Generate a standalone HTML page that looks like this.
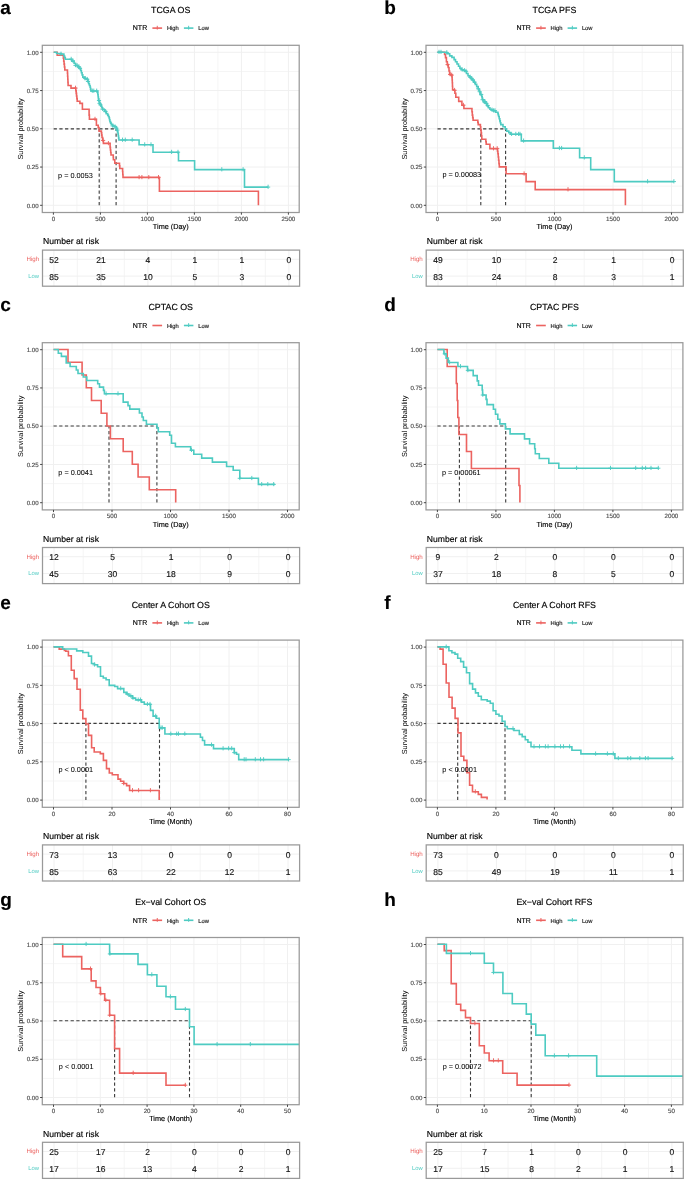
<!DOCTYPE html>
<html><head><meta charset="utf-8"><title>KM curves</title>
<style>html,body{margin:0;padding:0;background:#fff;}svg{display:block;font-family:"Liberation Sans", sans-serif;will-change:transform;text-rendering:geometricPrecision;filter:blur(0.3px);}</style></head>
<body><svg width="685" height="1180" viewBox="0 0 685 1180">
<rect width="685" height="1180" fill="#fff"/>
<text x="0.2" y="14" font-size="19" text-anchor="start" fill="#000" stroke="#000" stroke-width="0.15" font-weight="bold">a</text>
<text x="170.75" y="13" font-size="8.85" text-anchor="middle" fill="#000" stroke="#000" stroke-width="0.15">TCGA OS</text>
<text x="132.8" y="30.4" font-size="7.0" text-anchor="start" fill="#000" stroke="#000" stroke-width="0.15">NTR</text>
<line x1="152.4" y1="28.1" x2="162.1" y2="28.1" stroke="#EC6360" stroke-width="1.6"/>
<line x1="157.25" y1="25.8" x2="157.25" y2="29.6" stroke="#EC6360" stroke-width="1"/>
<text x="166.9" y="30.4" font-size="5.8" text-anchor="start" fill="#1a1a1a" stroke="#1a1a1a" stroke-width="0.15">High</text>
<line x1="183.9" y1="28.1" x2="193.4" y2="28.1" stroke="#4ECBC2" stroke-width="1.6"/>
<line x1="188.65" y1="25.8" x2="188.65" y2="29.6" stroke="#4ECBC2" stroke-width="1"/>
<text x="198.2" y="30.4" font-size="5.8" text-anchor="start" fill="#1a1a1a" stroke="#1a1a1a" stroke-width="0.15">Low</text>
<line x1="76.9" y1="45.3" x2="76.9" y2="212.5" stroke="#f4f4f4" stroke-width="0.9"/><line x1="123.9" y1="45.3" x2="123.9" y2="212.5" stroke="#f4f4f4" stroke-width="0.9"/><line x1="170.9" y1="45.3" x2="170.9" y2="212.5" stroke="#f4f4f4" stroke-width="0.9"/><line x1="217.9" y1="45.3" x2="217.9" y2="212.5" stroke="#f4f4f4" stroke-width="0.9"/><line x1="264.9" y1="45.3" x2="264.9" y2="212.5" stroke="#f4f4f4" stroke-width="0.9"/><line x1="42.3" y1="186.18" x2="299.2" y2="186.18" stroke="#f4f4f4" stroke-width="0.9"/><line x1="42.3" y1="147.93" x2="299.2" y2="147.93" stroke="#f4f4f4" stroke-width="0.9"/><line x1="42.3" y1="109.68" x2="299.2" y2="109.68" stroke="#f4f4f4" stroke-width="0.9"/><line x1="42.3" y1="71.43" x2="299.2" y2="71.43" stroke="#f4f4f4" stroke-width="0.9"/><line x1="53.4" y1="45.3" x2="53.4" y2="212.5" stroke="#f0f0f0" stroke-width="1"/><line x1="100.4" y1="45.3" x2="100.4" y2="212.5" stroke="#f0f0f0" stroke-width="1"/><line x1="147.4" y1="45.3" x2="147.4" y2="212.5" stroke="#f0f0f0" stroke-width="1"/><line x1="194.4" y1="45.3" x2="194.4" y2="212.5" stroke="#f0f0f0" stroke-width="1"/><line x1="241.4" y1="45.3" x2="241.4" y2="212.5" stroke="#f0f0f0" stroke-width="1"/><line x1="288.4" y1="45.3" x2="288.4" y2="212.5" stroke="#f0f0f0" stroke-width="1"/><line x1="42.3" y1="205.3" x2="299.2" y2="205.3" stroke="#f0f0f0" stroke-width="1"/><line x1="42.3" y1="167.05" x2="299.2" y2="167.05" stroke="#f0f0f0" stroke-width="1"/><line x1="42.3" y1="128.8" x2="299.2" y2="128.8" stroke="#f0f0f0" stroke-width="1"/><line x1="42.3" y1="90.55" x2="299.2" y2="90.55" stroke="#f0f0f0" stroke-width="1"/><line x1="42.3" y1="52.3" x2="299.2" y2="52.3" stroke="#f0f0f0" stroke-width="1"/>
<path d="M53.65,128.9H116.1M99.2,205.2V128.9M116.1,205.2V128.9" fill="none" stroke="#3a3a3a" stroke-width="1.1" stroke-dasharray="3.25,2.45"/>
<path d="M53.65,52.3 57.2,52.3 57.2,55.3 63,55.3 63.36,55.3 63.36,58.24 63.72,58.24 63.72,61.18 64.08,61.18 64.08,64.12 64.44,64.12 64.44,67.06 64.8,67.06 64.8,70 67.3,70 67.46,70 67.46,73.1 67.62,73.1 67.62,76.2 67.78,76.2 67.78,79.3 67.94,79.3 67.94,82.4 68.1,82.4 68.1,85.5 71,85.5 71,88.1 75.5,88.1 75.84,88.1 75.84,90.72 76.18,90.72 76.18,93.34 76.52,93.34 76.52,95.96 76.86,95.96 76.86,98.58 77.2,98.58 77.2,101.2 79.9,101.2 79.9,103.4 82.4,103.4 82.4,109.2 89.1,109.2 89.1,115.1 89.4,115.1 89.4,119.2 96.4,119.2 96.4,125.3 98.2,125.3 98.2,127.6 99.05,127.6 99.05,131.1 101.4,131.1 101.4,132.8 101.7,132.8 101.7,135.15 102,135.15 102,137.5 102.7,137.5 102.7,140.45 103.4,140.45 103.4,143.4 109.6,143.4 110.1,143.4 110.1,147.4 110.4,147.4 110.4,149.93 110.7,149.93 110.7,152.47 111,152.47 111,155 113.1,155 113.25,155 113.25,157.35 113.4,157.35 113.4,159.7 114.8,159.7 114.8,163.2 119.2,163.2 119.5,163.2 119.5,165.85 119.8,165.85 119.8,168.5 122.4,168.5 122.6,168.5 122.6,171.47 122.8,171.47 122.8,174.43 123,174.43 123,177.4 159.4,177.4 159.4,191.3 258.4,191.3 258.4,205.2" fill="none" stroke="#EC6360" stroke-width="1.6" stroke-linejoin="miter"/>
<path d="M73.4,88.1h4.2M75.5,85.7v4.2M92.9,119.2h4.2M95,116.8v4.2M101,140.45h4.2M103.1,138.05v4.2M106.3,143.4h4.2M108.4,141v4.2M137,177.4h4.2M139.1,175v4.2M139.8,177.4h4.2M141.9,175v4.2M146.7,177.4h4.2M148.8,175v4.2M156.4,177.4h4.2M158.5,175v4.2" fill="none" stroke="#EC6360" stroke-width="0.95"/>
<path d="M53.65,52.3 56.6,52.3 56.6,53.5 61,53.5 61,54.05 63.9,54.05 63.9,56 64.6,56 64.6,57.6 65.3,57.6 65.3,59.2 70.4,59.2 71.9,59.2 71.9,61.1 74.1,61.1 74.1,63.2 75.5,63.2 75.5,65.4 77.7,65.4 77.7,66.9 79.2,66.9 79.2,68.4 80.7,68.4 80.7,70.5 81.4,70.5 81.4,72.7 82.1,72.7 82.1,74.9 82.8,74.9 82.8,77.1 85,77.1 85,78.6 87.2,78.6 87.2,79.3 87.95,79.3 87.95,81.5 88.7,81.5 88.7,83.7 89.4,83.7 89.4,85.5 90.1,85.5 90.1,87.3 90.5,87.3 90.5,89.15 90.9,89.15 90.9,91 97.4,91 97.64,91 97.64,92.9 97.88,92.9 97.88,94.8 98.12,94.8 98.12,96.7 98.36,96.7 98.36,98.6 98.6,98.6 98.6,100.5 99.1,100.5 99.1,101.95 99.6,101.95 99.6,103.4 100.35,103.4 100.35,104.85 101.1,104.85 101.1,106.3 101.85,106.3 101.85,107.75 102.6,107.75 102.6,109.2 104.3,109.2 104.3,111.4 106.2,111.4 106.2,113.6 107.7,113.6 107.7,115.1 108.4,115.1 108.4,116.55 109.1,116.55 109.1,118 109.5,118 109.5,119.8 109.9,119.8 109.9,121.6 110.6,121.6 110.6,123.1 111.3,123.1 111.3,124.6 112.8,124.6 112.8,126 115,126 115,126.8 116.4,126.8 116.4,128.2 116.93,128.2 116.93,130.13 117.47,130.13 117.47,132.07 118,132.07 118,134 118.3,134 118.3,136 118.6,136 118.6,138 118.9,138 118.9,140 139.1,140 139.1,144.7 153,144.7 153,152.2 178.5,152.2 178.5,160.8 194.6,160.8 194.6,169.6 244.5,169.6 244.5,187.1 268.1,187.1" fill="none" stroke="#4ECBC2" stroke-width="1.6" stroke-linejoin="miter"/>
<path d="M58.9,54.05h4.2M61,51.65v4.2M69.1,59.2h4.2M71.2,56.8v4.2M70.9,61.1h4.2M73,58.7v4.2M73.4,65.4h4.2M75.5,63v4.2M74.9,65.4h4.2M77,63v4.2M76.9,66.9h4.2M79,64.5v4.2M77.9,68.4h4.2M80,66v4.2M82.9,78.6h4.2M85,76.2v4.2M85.1,79.3h4.2M87.2,76.9v4.2M85.9,81.5h4.2M88,79.1v4.2M90.2,91h4.2M92.3,88.6v4.2M91.7,91h4.2M93.8,88.6v4.2M94.6,91h4.2M96.7,88.6v4.2M96.9,100.5h4.2M99,98.1v4.2M97.5,103.4h4.2M99.6,101v4.2M98.3,104.85h4.2M100.4,102.45v4.2M100.5,109.2h4.2M102.6,106.8v4.2M103.5,111.4h4.2M105.6,109v4.2M110.7,126h4.2M112.8,123.6v4.2M112.9,126.8h4.2M115,124.4v4.2M114.3,128.2h4.2M116.4,125.8v4.2M115.2,130.13h4.2M117.3,127.73v4.2M120.4,140h4.2M122.5,137.6v4.2M123.2,140h4.2M125.3,137.6v4.2M130.1,140h4.2M132.2,137.6v4.2M142.6,144.7h4.2M144.7,142.3v4.2M148.9,144.7h4.2M151,142.3v4.2M169.5,152.2h4.2M171.6,149.8v4.2M175.9,152.2h4.2M178,149.8v4.2M219.7,169.6h4.2M221.8,167.2v4.2M241,169.6h4.2M243.1,167.2v4.2M266,187.1h4.2M268.1,184.7v4.2" fill="none" stroke="#4ECBC2" stroke-width="0.95"/>
<rect x="42.3" y="45.3" width="256.9" height="167.2" fill="none" stroke="#999" stroke-width="1.25"/>
<line x1="40.1" y1="205.3" x2="42.3" y2="205.3" stroke="#333" stroke-width="0.9"/>
<text x="38.6" y="207.5" font-size="6.1" text-anchor="end" fill="#4d4d4d" stroke="#4d4d4d" stroke-width="0.15">0.00</text>
<line x1="40.1" y1="167.05" x2="42.3" y2="167.05" stroke="#333" stroke-width="0.9"/>
<text x="38.6" y="169.25" font-size="6.1" text-anchor="end" fill="#4d4d4d" stroke="#4d4d4d" stroke-width="0.15">0.25</text>
<line x1="40.1" y1="128.8" x2="42.3" y2="128.8" stroke="#333" stroke-width="0.9"/>
<text x="38.6" y="131" font-size="6.1" text-anchor="end" fill="#4d4d4d" stroke="#4d4d4d" stroke-width="0.15">0.50</text>
<line x1="40.1" y1="90.55" x2="42.3" y2="90.55" stroke="#333" stroke-width="0.9"/>
<text x="38.6" y="92.75" font-size="6.1" text-anchor="end" fill="#4d4d4d" stroke="#4d4d4d" stroke-width="0.15">0.75</text>
<line x1="40.1" y1="52.3" x2="42.3" y2="52.3" stroke="#333" stroke-width="0.9"/>
<text x="38.6" y="54.5" font-size="6.1" text-anchor="end" fill="#4d4d4d" stroke="#4d4d4d" stroke-width="0.15">1.00</text>
<line x1="53.4" y1="212.5" x2="53.4" y2="214.7" stroke="#333" stroke-width="0.9"/>
<text x="53.4" y="220.9" font-size="6.2" text-anchor="middle" fill="#4d4d4d" stroke="#4d4d4d" stroke-width="0.15">0</text>
<line x1="100.4" y1="212.5" x2="100.4" y2="214.7" stroke="#333" stroke-width="0.9"/>
<text x="100.4" y="220.9" font-size="6.2" text-anchor="middle" fill="#4d4d4d" stroke="#4d4d4d" stroke-width="0.15">500</text>
<line x1="147.4" y1="212.5" x2="147.4" y2="214.7" stroke="#333" stroke-width="0.9"/>
<text x="147.4" y="220.9" font-size="6.2" text-anchor="middle" fill="#4d4d4d" stroke="#4d4d4d" stroke-width="0.15">1000</text>
<line x1="194.4" y1="212.5" x2="194.4" y2="214.7" stroke="#333" stroke-width="0.9"/>
<text x="194.4" y="220.9" font-size="6.2" text-anchor="middle" fill="#4d4d4d" stroke="#4d4d4d" stroke-width="0.15">1500</text>
<line x1="241.4" y1="212.5" x2="241.4" y2="214.7" stroke="#333" stroke-width="0.9"/>
<text x="241.4" y="220.9" font-size="6.2" text-anchor="middle" fill="#4d4d4d" stroke="#4d4d4d" stroke-width="0.15">2000</text>
<line x1="288.4" y1="212.5" x2="288.4" y2="214.7" stroke="#333" stroke-width="0.9"/>
<text x="288.4" y="220.9" font-size="6.2" text-anchor="middle" fill="#4d4d4d" stroke="#4d4d4d" stroke-width="0.15">2500</text>
<text x="170.75" y="229.2" font-size="7.3" text-anchor="middle" fill="#000" stroke="#000" stroke-width="0.15">Time (Day)</text>
<text transform="translate(23.4,128.9) rotate(-90)" font-size="7.3" text-anchor="middle" fill="#000">Survival probability</text>
<text x="58.1" y="177.6" font-size="7.3" text-anchor="start" fill="#000" stroke="#000" stroke-width="0.04">p = 0.0053</text>
<text x="43.1" y="244.3" font-size="8.6" text-anchor="start" fill="#000" stroke="#000" stroke-width="0.15">Number at risk</text>
<line x1="77.4" y1="250.1" x2="77.4" y2="286.2" stroke="#f4f4f4" stroke-width="0.9"/><line x1="124.4" y1="250.1" x2="124.4" y2="286.2" stroke="#f4f4f4" stroke-width="0.9"/><line x1="171.4" y1="250.1" x2="171.4" y2="286.2" stroke="#f4f4f4" stroke-width="0.9"/><line x1="218.4" y1="250.1" x2="218.4" y2="286.2" stroke="#f4f4f4" stroke-width="0.9"/><line x1="265.4" y1="250.1" x2="265.4" y2="286.2" stroke="#f4f4f4" stroke-width="0.9"/><line x1="53.9" y1="250.1" x2="53.9" y2="286.2" stroke="#f0f0f0" stroke-width="1"/><line x1="100.9" y1="250.1" x2="100.9" y2="286.2" stroke="#f0f0f0" stroke-width="1"/><line x1="147.9" y1="250.1" x2="147.9" y2="286.2" stroke="#f0f0f0" stroke-width="1"/><line x1="194.9" y1="250.1" x2="194.9" y2="286.2" stroke="#f0f0f0" stroke-width="1"/><line x1="241.9" y1="250.1" x2="241.9" y2="286.2" stroke="#f0f0f0" stroke-width="1"/><line x1="288.9" y1="250.1" x2="288.9" y2="286.2" stroke="#f0f0f0" stroke-width="1"/><line x1="42.5" y1="259.3" x2="299.6" y2="259.3" stroke="#f0f0f0" stroke-width="1"/><line x1="42.5" y1="276.1" x2="299.6" y2="276.1" stroke="#f0f0f0" stroke-width="1"/>
<rect x="42.5" y="250.1" width="257.1" height="36.1" fill="none" stroke="#999" stroke-width="1.25"/>
<text x="53.9" y="263" font-size="8.5" text-anchor="middle" fill="#111" stroke="#111" stroke-width="0.15">52</text>
<text x="53.9" y="279.9" font-size="8.5" text-anchor="middle" fill="#111" stroke="#111" stroke-width="0.15">85</text>
<text x="100.9" y="263" font-size="8.5" text-anchor="middle" fill="#111" stroke="#111" stroke-width="0.15">21</text>
<text x="100.9" y="279.9" font-size="8.5" text-anchor="middle" fill="#111" stroke="#111" stroke-width="0.15">35</text>
<text x="147.9" y="263" font-size="8.5" text-anchor="middle" fill="#111" stroke="#111" stroke-width="0.15">4</text>
<text x="147.9" y="279.9" font-size="8.5" text-anchor="middle" fill="#111" stroke="#111" stroke-width="0.15">10</text>
<text x="194.9" y="263" font-size="8.5" text-anchor="middle" fill="#111" stroke="#111" stroke-width="0.15">1</text>
<text x="194.9" y="279.9" font-size="8.5" text-anchor="middle" fill="#111" stroke="#111" stroke-width="0.15">5</text>
<text x="241.9" y="263" font-size="8.5" text-anchor="middle" fill="#111" stroke="#111" stroke-width="0.15">1</text>
<text x="241.9" y="279.9" font-size="8.5" text-anchor="middle" fill="#111" stroke="#111" stroke-width="0.15">3</text>
<text x="288.9" y="263" font-size="8.5" text-anchor="middle" fill="#111" stroke="#111" stroke-width="0.15">0</text>
<text x="288.9" y="279.9" font-size="8.5" text-anchor="middle" fill="#111" stroke="#111" stroke-width="0.15">0</text>
<text x="39.1" y="261.1" font-size="6.15" text-anchor="end" fill="#EC6360">High</text>
<text x="39.1" y="277.8" font-size="5.85" text-anchor="end" fill="#4ECBC2">Low</text>
<text x="384.2" y="14" font-size="19" text-anchor="start" fill="#000" stroke="#000" stroke-width="0.15" font-weight="bold">b</text>
<text x="554.45" y="13" font-size="8.85" text-anchor="middle" fill="#000" stroke="#000" stroke-width="0.15">TCGA PFS</text>
<text x="516.5" y="30.4" font-size="7.0" text-anchor="start" fill="#000" stroke="#000" stroke-width="0.15">NTR</text>
<line x1="536.1" y1="28.1" x2="545.8" y2="28.1" stroke="#EC6360" stroke-width="1.6"/>
<line x1="540.95" y1="25.8" x2="540.95" y2="29.6" stroke="#EC6360" stroke-width="1"/>
<text x="550.6" y="30.4" font-size="5.8" text-anchor="start" fill="#1a1a1a" stroke="#1a1a1a" stroke-width="0.15">High</text>
<line x1="567.6" y1="28.1" x2="577.1" y2="28.1" stroke="#4ECBC2" stroke-width="1.6"/>
<line x1="572.35" y1="25.8" x2="572.35" y2="29.6" stroke="#4ECBC2" stroke-width="1"/>
<text x="581.9" y="30.4" font-size="5.8" text-anchor="start" fill="#1a1a1a" stroke="#1a1a1a" stroke-width="0.15">Low</text>
<line x1="466.75" y1="45.3" x2="466.75" y2="212.5" stroke="#f4f4f4" stroke-width="0.9"/><line x1="525.25" y1="45.3" x2="525.25" y2="212.5" stroke="#f4f4f4" stroke-width="0.9"/><line x1="583.75" y1="45.3" x2="583.75" y2="212.5" stroke="#f4f4f4" stroke-width="0.9"/><line x1="642.25" y1="45.3" x2="642.25" y2="212.5" stroke="#f4f4f4" stroke-width="0.9"/><line x1="426" y1="186.18" x2="682.9" y2="186.18" stroke="#f4f4f4" stroke-width="0.9"/><line x1="426" y1="147.93" x2="682.9" y2="147.93" stroke="#f4f4f4" stroke-width="0.9"/><line x1="426" y1="109.68" x2="682.9" y2="109.68" stroke="#f4f4f4" stroke-width="0.9"/><line x1="426" y1="71.43" x2="682.9" y2="71.43" stroke="#f4f4f4" stroke-width="0.9"/><line x1="437.5" y1="45.3" x2="437.5" y2="212.5" stroke="#f0f0f0" stroke-width="1"/><line x1="496" y1="45.3" x2="496" y2="212.5" stroke="#f0f0f0" stroke-width="1"/><line x1="554.5" y1="45.3" x2="554.5" y2="212.5" stroke="#f0f0f0" stroke-width="1"/><line x1="613" y1="45.3" x2="613" y2="212.5" stroke="#f0f0f0" stroke-width="1"/><line x1="671.5" y1="45.3" x2="671.5" y2="212.5" stroke="#f0f0f0" stroke-width="1"/><line x1="426" y1="205.3" x2="682.9" y2="205.3" stroke="#f0f0f0" stroke-width="1"/><line x1="426" y1="167.05" x2="682.9" y2="167.05" stroke="#f0f0f0" stroke-width="1"/><line x1="426" y1="128.8" x2="682.9" y2="128.8" stroke="#f0f0f0" stroke-width="1"/><line x1="426" y1="90.55" x2="682.9" y2="90.55" stroke="#f0f0f0" stroke-width="1"/><line x1="426" y1="52.3" x2="682.9" y2="52.3" stroke="#f0f0f0" stroke-width="1"/>
<path d="M437.5,128.9H505.6M480.8,205.2V128.9M505.6,205.2V128.9" fill="none" stroke="#3a3a3a" stroke-width="1.1" stroke-dasharray="3.25,2.45"/>
<path d="M437.5,52.2 444.6,52.2 444.6,54.5 445,54.5 445.5,54.5 445.5,57.6 446.4,57.6 446.4,61.7 447.3,61.7 447.3,64.6 448.2,64.6 448.2,67.5 449,67.5 449,71 449.6,71 449.6,74.5 451.4,74.5 451.4,75.1 452,75.1 452,77.4 452.15,77.4 452.15,80.05 452.3,80.05 452.3,82.7 452.45,82.7 452.45,86.2 452.6,86.2 452.6,89.7 454,89.7 454,90.3 454.9,90.3 454.9,93.2 455.8,93.2 455.8,97.3 458.7,97.3 458.7,101.4 461.9,101.4 461.9,105.2 463.9,105.2 463.9,108.5 471.6,108.5 471.95,108.5 471.95,111.8 472.3,111.8 472.3,115.1 472.7,115.1 472.7,117.65 473.1,117.65 473.1,120.2 477.4,120.2 477.8,120.2 477.8,122.4 478.2,122.4 478.2,124.6 480.4,124.6 480.4,126.8 480.75,126.8 480.75,129.7 481.1,129.7 481.1,132.6 481.45,132.6 481.45,135.9 481.8,135.9 481.8,139.2 485.5,139.2 485.85,139.2 485.85,141.75 486.2,141.75 486.2,144.3 489.1,144.3 489.9,144.3 489.9,148.6 497.2,148.6 497.55,148.6 497.55,151.2 497.9,151.2 497.9,153.8 498.25,153.8 498.25,157.05 498.6,157.05 498.6,160.3 498.95,160.3 498.95,163.6 499.3,163.6 499.3,166.9 506.1,166.9 506.1,173.8 526.1,173.8 526.1,181.6 535.2,181.6 535.2,189.6 625.4,189.6 625.4,205.2" fill="none" stroke="#EC6360" stroke-width="1.6" stroke-linejoin="miter"/>
<path d="M445.5,64.6h4.2M447.6,62.2v4.2M448.1,74.5h4.2M450.2,72.1v4.2M449.6,75.1h4.2M451.7,72.7v4.2M452.5,90.3h4.2M454.6,87.9v4.2M461.3,105.2h4.2M463.4,102.8v4.2M491.4,148.6h4.2M493.5,146.2v4.2M495.1,148.6h4.2M497.2,146.2v4.2M522,173.8h4.2M524.1,171.4v4.2M565.9,189.6h4.2M568,187.2v4.2" fill="none" stroke="#EC6360" stroke-width="0.95"/>
<path d="M437.5,52.2 446.1,52.2 446.1,52.6 447.5,52.6 447.5,53.8 449.7,53.8 449.7,55.9 451.9,55.9 451.9,57.4 454.1,57.4 454.1,59.6 455.5,59.6 455.5,61.8 457,61.8 457,64 458.5,64 458.5,66.2 459.9,66.2 459.9,68.4 461.4,68.4 461.4,69.8 463.6,69.8 463.6,70.5 465,70.5 465,71.3 466.5,71.3 466.5,73.5 468,73.5 468,75.7 469.4,75.7 469.4,77.1 470.9,77.1 470.9,78.6 472.3,78.6 472.3,80 473.8,80 473.8,82.2 475.3,82.2 475.3,84.4 476.7,84.4 476.7,86.6 478.2,86.6 478.2,88.8 478.9,88.8 478.9,90.25 479.6,90.25 479.6,91.7 480,91.7 480,93.15 480.4,93.15 480.4,94.6 481.8,94.6 481.8,96.8 482.2,96.8 482.2,98.25 482.6,98.25 482.6,99.7 484,99.7 484,101.9 485.5,101.9 485.5,103.4 486.9,103.4 486.9,105.6 488.4,105.6 488.4,107.8 489.9,107.8 489.9,109.2 491.3,109.2 491.3,110 493.5,110 493.5,110.7 495.7,110.7 495.7,112.2 497.9,112.2 497.9,113.6 498.25,113.6 498.25,115.05 498.6,115.05 498.6,116.5 499.2,116.5 499.2,118.7 499.8,118.7 499.8,120.9 500.3,120.9 500.3,122.75 500.8,122.75 500.8,124.6 503,124.6 503,126.8 505.2,126.8 505.2,128.9 506.6,128.9 506.6,131.1 508.8,131.1 508.8,132.6 510.3,132.6 510.3,134.2 521.3,134.2 521.3,140.9 553.3,140.9 553.3,148.3 579.6,148.3 579.6,157.7 590.7,157.7 590.7,169.6 614.3,169.6 614.3,181.6 673.9,181.6" fill="none" stroke="#4ECBC2" stroke-width="1.6" stroke-linejoin="miter"/>
<path d="M436.9,52.2h4.2M439,49.8v4.2M438.9,52.2h4.2M441,49.8v4.2M444.7,52.6h4.2M446.8,50.2v4.2M460.1,69.8h4.2M462.2,67.4v4.2M462.3,70.5h4.2M464.4,68.1v4.2M463.9,71.3h4.2M466,68.9v4.2M468.1,77.1h4.2M470.2,74.7v4.2M469.6,78.6h4.2M471.7,76.2v4.2M470.7,80h4.2M472.8,77.6v4.2M472.5,82.2h4.2M474.6,79.8v4.2M476.1,88.8h4.2M478.2,86.4v4.2M477.6,91.7h4.2M479.7,89.3v4.2M479.1,94.6h4.2M481.2,92.2v4.2M480.5,99.7h4.2M482.6,97.3v4.2M482,101.9h4.2M484.1,99.5v4.2M483.1,101.9h4.2M485.2,99.5v4.2M484.2,103.4h4.2M486.3,101v4.2M485.6,105.6h4.2M487.7,103.2v4.2M490,110h4.2M492.1,107.6v4.2M491.5,110.7h4.2M493.6,108.3v4.2M492.9,110.7h4.2M495,108.3v4.2M509.5,134.2h4.2M511.6,131.8v4.2M513.7,134.2h4.2M515.8,131.8v4.2M516.5,134.2h4.2M518.6,131.8v4.2M517.9,134.2h4.2M520,131.8v4.2M521.5,140.9h4.2M523.6,138.5v4.2M557.3,148.3h4.2M559.4,145.9v4.2M559.5,148.3h4.2M561.6,145.9v4.2M582.2,157.7h4.2M584.3,155.3v4.2M645.5,181.6h4.2M647.6,179.2v4.2M671.8,181.6h4.2M673.9,179.2v4.2" fill="none" stroke="#4ECBC2" stroke-width="0.95"/>
<rect x="426" y="45.3" width="256.9" height="167.2" fill="none" stroke="#999" stroke-width="1.25"/>
<line x1="423.8" y1="205.3" x2="426" y2="205.3" stroke="#333" stroke-width="0.9"/>
<text x="422.3" y="207.5" font-size="6.1" text-anchor="end" fill="#4d4d4d" stroke="#4d4d4d" stroke-width="0.15">0.00</text>
<line x1="423.8" y1="167.05" x2="426" y2="167.05" stroke="#333" stroke-width="0.9"/>
<text x="422.3" y="169.25" font-size="6.1" text-anchor="end" fill="#4d4d4d" stroke="#4d4d4d" stroke-width="0.15">0.25</text>
<line x1="423.8" y1="128.8" x2="426" y2="128.8" stroke="#333" stroke-width="0.9"/>
<text x="422.3" y="131" font-size="6.1" text-anchor="end" fill="#4d4d4d" stroke="#4d4d4d" stroke-width="0.15">0.50</text>
<line x1="423.8" y1="90.55" x2="426" y2="90.55" stroke="#333" stroke-width="0.9"/>
<text x="422.3" y="92.75" font-size="6.1" text-anchor="end" fill="#4d4d4d" stroke="#4d4d4d" stroke-width="0.15">0.75</text>
<line x1="423.8" y1="52.3" x2="426" y2="52.3" stroke="#333" stroke-width="0.9"/>
<text x="422.3" y="54.5" font-size="6.1" text-anchor="end" fill="#4d4d4d" stroke="#4d4d4d" stroke-width="0.15">1.00</text>
<line x1="437.5" y1="212.5" x2="437.5" y2="214.7" stroke="#333" stroke-width="0.9"/>
<text x="437.5" y="220.9" font-size="6.2" text-anchor="middle" fill="#4d4d4d" stroke="#4d4d4d" stroke-width="0.15">0</text>
<line x1="496" y1="212.5" x2="496" y2="214.7" stroke="#333" stroke-width="0.9"/>
<text x="496" y="220.9" font-size="6.2" text-anchor="middle" fill="#4d4d4d" stroke="#4d4d4d" stroke-width="0.15">500</text>
<line x1="554.5" y1="212.5" x2="554.5" y2="214.7" stroke="#333" stroke-width="0.9"/>
<text x="554.5" y="220.9" font-size="6.2" text-anchor="middle" fill="#4d4d4d" stroke="#4d4d4d" stroke-width="0.15">1000</text>
<line x1="613" y1="212.5" x2="613" y2="214.7" stroke="#333" stroke-width="0.9"/>
<text x="613" y="220.9" font-size="6.2" text-anchor="middle" fill="#4d4d4d" stroke="#4d4d4d" stroke-width="0.15">1500</text>
<line x1="671.5" y1="212.5" x2="671.5" y2="214.7" stroke="#333" stroke-width="0.9"/>
<text x="671.5" y="220.9" font-size="6.2" text-anchor="middle" fill="#4d4d4d" stroke="#4d4d4d" stroke-width="0.15">2000</text>
<text x="554.45" y="229.2" font-size="7.3" text-anchor="middle" fill="#000" stroke="#000" stroke-width="0.15">Time (Day)</text>
<text transform="translate(407.1,128.9) rotate(-90)" font-size="7.3" text-anchor="middle" fill="#000">Survival probability</text>
<text x="442.4" y="177.2" font-size="7.3" text-anchor="start" fill="#000" stroke="#000" stroke-width="0.04">p = 0.00083</text>
<text x="426.8" y="244.3" font-size="8.6" text-anchor="start" fill="#000" stroke="#000" stroke-width="0.15">Number at risk</text>
<line x1="467.25" y1="250.1" x2="467.25" y2="286.2" stroke="#f4f4f4" stroke-width="0.9"/><line x1="525.75" y1="250.1" x2="525.75" y2="286.2" stroke="#f4f4f4" stroke-width="0.9"/><line x1="584.25" y1="250.1" x2="584.25" y2="286.2" stroke="#f4f4f4" stroke-width="0.9"/><line x1="642.75" y1="250.1" x2="642.75" y2="286.2" stroke="#f4f4f4" stroke-width="0.9"/><line x1="438" y1="250.1" x2="438" y2="286.2" stroke="#f0f0f0" stroke-width="1"/><line x1="496.5" y1="250.1" x2="496.5" y2="286.2" stroke="#f0f0f0" stroke-width="1"/><line x1="555" y1="250.1" x2="555" y2="286.2" stroke="#f0f0f0" stroke-width="1"/><line x1="613.5" y1="250.1" x2="613.5" y2="286.2" stroke="#f0f0f0" stroke-width="1"/><line x1="672" y1="250.1" x2="672" y2="286.2" stroke="#f0f0f0" stroke-width="1"/><line x1="426.2" y1="259.3" x2="683.3" y2="259.3" stroke="#f0f0f0" stroke-width="1"/><line x1="426.2" y1="276.1" x2="683.3" y2="276.1" stroke="#f0f0f0" stroke-width="1"/>
<rect x="426.2" y="250.1" width="257.1" height="36.1" fill="none" stroke="#999" stroke-width="1.25"/>
<text x="438" y="263" font-size="8.5" text-anchor="middle" fill="#111" stroke="#111" stroke-width="0.15">49</text>
<text x="438" y="279.9" font-size="8.5" text-anchor="middle" fill="#111" stroke="#111" stroke-width="0.15">83</text>
<text x="496.5" y="263" font-size="8.5" text-anchor="middle" fill="#111" stroke="#111" stroke-width="0.15">10</text>
<text x="496.5" y="279.9" font-size="8.5" text-anchor="middle" fill="#111" stroke="#111" stroke-width="0.15">24</text>
<text x="555" y="263" font-size="8.5" text-anchor="middle" fill="#111" stroke="#111" stroke-width="0.15">2</text>
<text x="555" y="279.9" font-size="8.5" text-anchor="middle" fill="#111" stroke="#111" stroke-width="0.15">8</text>
<text x="613.5" y="263" font-size="8.5" text-anchor="middle" fill="#111" stroke="#111" stroke-width="0.15">1</text>
<text x="613.5" y="279.9" font-size="8.5" text-anchor="middle" fill="#111" stroke="#111" stroke-width="0.15">3</text>
<text x="672" y="263" font-size="8.5" text-anchor="middle" fill="#111" stroke="#111" stroke-width="0.15">0</text>
<text x="672" y="279.9" font-size="8.5" text-anchor="middle" fill="#111" stroke="#111" stroke-width="0.15">1</text>
<text x="422.8" y="261.1" font-size="6.15" text-anchor="end" fill="#EC6360">High</text>
<text x="422.8" y="277.8" font-size="5.85" text-anchor="end" fill="#4ECBC2">Low</text>
<text x="0.2" y="311.4" font-size="19" text-anchor="start" fill="#000" stroke="#000" stroke-width="0.15" font-weight="bold">c</text>
<text x="170.75" y="310.4" font-size="8.85" text-anchor="middle" fill="#000" stroke="#000" stroke-width="0.15">CPTAC OS</text>
<text x="132.8" y="327.8" font-size="7.0" text-anchor="start" fill="#000" stroke="#000" stroke-width="0.15">NTR</text>
<line x1="152.4" y1="325.5" x2="162.1" y2="325.5" stroke="#EC6360" stroke-width="1.6"/>
<text x="166.9" y="327.8" font-size="5.8" text-anchor="start" fill="#1a1a1a" stroke="#1a1a1a" stroke-width="0.15">High</text>
<line x1="183.9" y1="325.5" x2="193.4" y2="325.5" stroke="#4ECBC2" stroke-width="1.6"/>
<line x1="188.65" y1="323.2" x2="188.65" y2="327" stroke="#4ECBC2" stroke-width="1"/>
<text x="198.2" y="327.8" font-size="5.8" text-anchor="start" fill="#1a1a1a" stroke="#1a1a1a" stroke-width="0.15">Low</text>
<line x1="82.75" y1="342.7" x2="82.75" y2="509.9" stroke="#f4f4f4" stroke-width="0.9"/><line x1="141.25" y1="342.7" x2="141.25" y2="509.9" stroke="#f4f4f4" stroke-width="0.9"/><line x1="199.75" y1="342.7" x2="199.75" y2="509.9" stroke="#f4f4f4" stroke-width="0.9"/><line x1="258.25" y1="342.7" x2="258.25" y2="509.9" stroke="#f4f4f4" stroke-width="0.9"/><line x1="42.3" y1="483.57" x2="299.2" y2="483.57" stroke="#f4f4f4" stroke-width="0.9"/><line x1="42.3" y1="445.32" x2="299.2" y2="445.32" stroke="#f4f4f4" stroke-width="0.9"/><line x1="42.3" y1="407.07" x2="299.2" y2="407.07" stroke="#f4f4f4" stroke-width="0.9"/><line x1="42.3" y1="368.82" x2="299.2" y2="368.82" stroke="#f4f4f4" stroke-width="0.9"/><line x1="53.5" y1="342.7" x2="53.5" y2="509.9" stroke="#f0f0f0" stroke-width="1"/><line x1="112" y1="342.7" x2="112" y2="509.9" stroke="#f0f0f0" stroke-width="1"/><line x1="170.5" y1="342.7" x2="170.5" y2="509.9" stroke="#f0f0f0" stroke-width="1"/><line x1="229" y1="342.7" x2="229" y2="509.9" stroke="#f0f0f0" stroke-width="1"/><line x1="287.5" y1="342.7" x2="287.5" y2="509.9" stroke="#f0f0f0" stroke-width="1"/><line x1="42.3" y1="502.7" x2="299.2" y2="502.7" stroke="#f0f0f0" stroke-width="1"/><line x1="42.3" y1="464.45" x2="299.2" y2="464.45" stroke="#f0f0f0" stroke-width="1"/><line x1="42.3" y1="426.2" x2="299.2" y2="426.2" stroke="#f0f0f0" stroke-width="1"/><line x1="42.3" y1="387.95" x2="299.2" y2="387.95" stroke="#f0f0f0" stroke-width="1"/><line x1="42.3" y1="349.7" x2="299.2" y2="349.7" stroke="#f0f0f0" stroke-width="1"/>
<path d="M53.5,426.05H156.9M109,502.55V426.05M156.9,502.55V426.05" fill="none" stroke="#3a3a3a" stroke-width="1.1" stroke-dasharray="3.25,2.45"/>
<path d="M53.5,349.55 68,349.55 68,362.3 82.1,362.3 82.1,375.05 86.3,375.05 86.3,387.8 91.5,387.8 91.5,400.55 101.2,400.55 101.2,413.3 106.9,413.3 106.9,426.05 110.4,426.05 110.4,438.8 123.2,438.8 123.2,451.55 132.3,451.55 132.3,464.3 138.1,464.3 138.1,477.05 149.3,477.05 149.3,489.8 175.7,489.8 175.7,502.55" fill="none" stroke="#EC6360" stroke-width="1.6" stroke-linejoin="miter"/>
<path d="" fill="none" stroke="#EC6360" stroke-width="0.95"/>
<path d="M53.5,349.55 58.3,349.55 58.3,353.2 61.4,353.2 61.4,356.4 66.2,356.4 66.2,363 70.1,363 70.1,366.5 76.3,366.5 76.3,370 78,370 78,373.5 83.3,373.5 83.3,377 86.8,377 86.8,380.5 97.7,380.5 97.7,383.7 99.5,383.7 99.5,387.1 103.5,387.1 103.5,390.4 104.4,390.4 104.4,393.8 123.2,393.8 123.2,402.1 128,402.1 128,405.6 129.8,405.6 129.8,409.1 139.4,409.1 139.4,413 142,413 142,417 143.3,417 143.3,420.5 146.4,420.5 146.4,424.3 157,424.3 157,427.9 158.3,427.9 158.3,431.8 169.7,431.8 169.7,435.3 171.5,435.3 171.5,443.2 175.4,443.2 175.4,446.7 190.7,446.7 190.7,450.2 193.8,450.2 193.8,454.2 201.7,454.2 201.7,458.1 212.4,458.1 212.4,462.1 226.6,462.1 226.6,466.5 233.2,466.5 233.2,470.2 239.8,470.2 239.8,478.3 258.4,478.3 258.4,484.4 274.8,484.4" fill="none" stroke="#4ECBC2" stroke-width="1.6" stroke-linejoin="miter"/>
<path d="M104,393.8h4.2M106.1,391.4v4.2M115.9,393.8h4.2M118,391.4v4.2M189.4,450.2h4.2M191.5,447.8v4.2M237.7,478.3h4.2M239.8,475.9v4.2M249.7,478.3h4.2M251.8,475.9v4.2M259.6,484.4h4.2M261.7,482v4.2M265.7,484.4h4.2M267.8,482v4.2M271.6,484.4h4.2M273.7,482v4.2" fill="none" stroke="#4ECBC2" stroke-width="0.95"/>
<rect x="42.3" y="342.7" width="256.9" height="167.2" fill="none" stroke="#999" stroke-width="1.25"/>
<line x1="40.1" y1="502.7" x2="42.3" y2="502.7" stroke="#333" stroke-width="0.9"/>
<text x="38.6" y="504.9" font-size="6.1" text-anchor="end" fill="#4d4d4d" stroke="#4d4d4d" stroke-width="0.15">0.00</text>
<line x1="40.1" y1="464.45" x2="42.3" y2="464.45" stroke="#333" stroke-width="0.9"/>
<text x="38.6" y="466.65" font-size="6.1" text-anchor="end" fill="#4d4d4d" stroke="#4d4d4d" stroke-width="0.15">0.25</text>
<line x1="40.1" y1="426.2" x2="42.3" y2="426.2" stroke="#333" stroke-width="0.9"/>
<text x="38.6" y="428.4" font-size="6.1" text-anchor="end" fill="#4d4d4d" stroke="#4d4d4d" stroke-width="0.15">0.50</text>
<line x1="40.1" y1="387.95" x2="42.3" y2="387.95" stroke="#333" stroke-width="0.9"/>
<text x="38.6" y="390.15" font-size="6.1" text-anchor="end" fill="#4d4d4d" stroke="#4d4d4d" stroke-width="0.15">0.75</text>
<line x1="40.1" y1="349.7" x2="42.3" y2="349.7" stroke="#333" stroke-width="0.9"/>
<text x="38.6" y="351.9" font-size="6.1" text-anchor="end" fill="#4d4d4d" stroke="#4d4d4d" stroke-width="0.15">1.00</text>
<line x1="53.5" y1="509.9" x2="53.5" y2="512.1" stroke="#333" stroke-width="0.9"/>
<text x="53.5" y="518.3" font-size="6.2" text-anchor="middle" fill="#4d4d4d" stroke="#4d4d4d" stroke-width="0.15">0</text>
<line x1="112" y1="509.9" x2="112" y2="512.1" stroke="#333" stroke-width="0.9"/>
<text x="112" y="518.3" font-size="6.2" text-anchor="middle" fill="#4d4d4d" stroke="#4d4d4d" stroke-width="0.15">500</text>
<line x1="170.5" y1="509.9" x2="170.5" y2="512.1" stroke="#333" stroke-width="0.9"/>
<text x="170.5" y="518.3" font-size="6.2" text-anchor="middle" fill="#4d4d4d" stroke="#4d4d4d" stroke-width="0.15">1000</text>
<line x1="229" y1="509.9" x2="229" y2="512.1" stroke="#333" stroke-width="0.9"/>
<text x="229" y="518.3" font-size="6.2" text-anchor="middle" fill="#4d4d4d" stroke="#4d4d4d" stroke-width="0.15">1500</text>
<line x1="287.5" y1="509.9" x2="287.5" y2="512.1" stroke="#333" stroke-width="0.9"/>
<text x="287.5" y="518.3" font-size="6.2" text-anchor="middle" fill="#4d4d4d" stroke="#4d4d4d" stroke-width="0.15">2000</text>
<text x="170.75" y="526.6" font-size="7.3" text-anchor="middle" fill="#000" stroke="#000" stroke-width="0.15">Time (Day)</text>
<text transform="translate(23.4,426.3) rotate(-90)" font-size="7.3" text-anchor="middle" fill="#000">Survival probability</text>
<text x="58.3" y="474.6" font-size="7.3" text-anchor="start" fill="#000" stroke="#000" stroke-width="0.04">p = 0.0041</text>
<text x="43.1" y="541.7" font-size="8.6" text-anchor="start" fill="#000" stroke="#000" stroke-width="0.15">Number at risk</text>
<line x1="83.25" y1="547.5" x2="83.25" y2="583.6" stroke="#f4f4f4" stroke-width="0.9"/><line x1="141.75" y1="547.5" x2="141.75" y2="583.6" stroke="#f4f4f4" stroke-width="0.9"/><line x1="200.25" y1="547.5" x2="200.25" y2="583.6" stroke="#f4f4f4" stroke-width="0.9"/><line x1="258.75" y1="547.5" x2="258.75" y2="583.6" stroke="#f4f4f4" stroke-width="0.9"/><line x1="54" y1="547.5" x2="54" y2="583.6" stroke="#f0f0f0" stroke-width="1"/><line x1="112.5" y1="547.5" x2="112.5" y2="583.6" stroke="#f0f0f0" stroke-width="1"/><line x1="171" y1="547.5" x2="171" y2="583.6" stroke="#f0f0f0" stroke-width="1"/><line x1="229.5" y1="547.5" x2="229.5" y2="583.6" stroke="#f0f0f0" stroke-width="1"/><line x1="288" y1="547.5" x2="288" y2="583.6" stroke="#f0f0f0" stroke-width="1"/><line x1="42.5" y1="556.7" x2="299.6" y2="556.7" stroke="#f0f0f0" stroke-width="1"/><line x1="42.5" y1="573.5" x2="299.6" y2="573.5" stroke="#f0f0f0" stroke-width="1"/>
<rect x="42.5" y="547.5" width="257.1" height="36.1" fill="none" stroke="#999" stroke-width="1.25"/>
<text x="54" y="560.4" font-size="8.5" text-anchor="middle" fill="#111" stroke="#111" stroke-width="0.15">12</text>
<text x="54" y="577.3" font-size="8.5" text-anchor="middle" fill="#111" stroke="#111" stroke-width="0.15">45</text>
<text x="112.5" y="560.4" font-size="8.5" text-anchor="middle" fill="#111" stroke="#111" stroke-width="0.15">5</text>
<text x="112.5" y="577.3" font-size="8.5" text-anchor="middle" fill="#111" stroke="#111" stroke-width="0.15">30</text>
<text x="171" y="560.4" font-size="8.5" text-anchor="middle" fill="#111" stroke="#111" stroke-width="0.15">1</text>
<text x="171" y="577.3" font-size="8.5" text-anchor="middle" fill="#111" stroke="#111" stroke-width="0.15">18</text>
<text x="229.5" y="560.4" font-size="8.5" text-anchor="middle" fill="#111" stroke="#111" stroke-width="0.15">0</text>
<text x="229.5" y="577.3" font-size="8.5" text-anchor="middle" fill="#111" stroke="#111" stroke-width="0.15">9</text>
<text x="288" y="560.4" font-size="8.5" text-anchor="middle" fill="#111" stroke="#111" stroke-width="0.15">0</text>
<text x="288" y="577.3" font-size="8.5" text-anchor="middle" fill="#111" stroke="#111" stroke-width="0.15">0</text>
<text x="39.1" y="558.5" font-size="6.15" text-anchor="end" fill="#EC6360">High</text>
<text x="39.1" y="575.2" font-size="5.85" text-anchor="end" fill="#4ECBC2">Low</text>
<text x="384.2" y="311.4" font-size="19" text-anchor="start" fill="#000" stroke="#000" stroke-width="0.15" font-weight="bold">d</text>
<text x="554.45" y="310.4" font-size="8.85" text-anchor="middle" fill="#000" stroke="#000" stroke-width="0.15">CPTAC PFS</text>
<text x="516.5" y="327.8" font-size="7.0" text-anchor="start" fill="#000" stroke="#000" stroke-width="0.15">NTR</text>
<line x1="536.1" y1="325.5" x2="545.8" y2="325.5" stroke="#EC6360" stroke-width="1.6"/>
<text x="550.6" y="327.8" font-size="5.8" text-anchor="start" fill="#1a1a1a" stroke="#1a1a1a" stroke-width="0.15">High</text>
<line x1="567.6" y1="325.5" x2="577.1" y2="325.5" stroke="#4ECBC2" stroke-width="1.6"/>
<line x1="572.35" y1="323.2" x2="572.35" y2="327" stroke="#4ECBC2" stroke-width="1"/>
<text x="581.9" y="327.8" font-size="5.8" text-anchor="start" fill="#1a1a1a" stroke="#1a1a1a" stroke-width="0.15">Low</text>
<line x1="466.65" y1="342.7" x2="466.65" y2="509.9" stroke="#f4f4f4" stroke-width="0.9"/><line x1="525.15" y1="342.7" x2="525.15" y2="509.9" stroke="#f4f4f4" stroke-width="0.9"/><line x1="583.65" y1="342.7" x2="583.65" y2="509.9" stroke="#f4f4f4" stroke-width="0.9"/><line x1="642.15" y1="342.7" x2="642.15" y2="509.9" stroke="#f4f4f4" stroke-width="0.9"/><line x1="426" y1="483.57" x2="682.9" y2="483.57" stroke="#f4f4f4" stroke-width="0.9"/><line x1="426" y1="445.32" x2="682.9" y2="445.32" stroke="#f4f4f4" stroke-width="0.9"/><line x1="426" y1="407.07" x2="682.9" y2="407.07" stroke="#f4f4f4" stroke-width="0.9"/><line x1="426" y1="368.82" x2="682.9" y2="368.82" stroke="#f4f4f4" stroke-width="0.9"/><line x1="437.4" y1="342.7" x2="437.4" y2="509.9" stroke="#f0f0f0" stroke-width="1"/><line x1="495.9" y1="342.7" x2="495.9" y2="509.9" stroke="#f0f0f0" stroke-width="1"/><line x1="554.4" y1="342.7" x2="554.4" y2="509.9" stroke="#f0f0f0" stroke-width="1"/><line x1="612.9" y1="342.7" x2="612.9" y2="509.9" stroke="#f0f0f0" stroke-width="1"/><line x1="671.4" y1="342.7" x2="671.4" y2="509.9" stroke="#f0f0f0" stroke-width="1"/><line x1="426" y1="502.7" x2="682.9" y2="502.7" stroke="#f0f0f0" stroke-width="1"/><line x1="426" y1="464.45" x2="682.9" y2="464.45" stroke="#f0f0f0" stroke-width="1"/><line x1="426" y1="426.2" x2="682.9" y2="426.2" stroke="#f0f0f0" stroke-width="1"/><line x1="426" y1="387.95" x2="682.9" y2="387.95" stroke="#f0f0f0" stroke-width="1"/><line x1="426" y1="349.7" x2="682.9" y2="349.7" stroke="#f0f0f0" stroke-width="1"/>
<path d="M437.4,426.05H505.7M459.4,502.55V426.05M505.7,502.55V426.05" fill="none" stroke="#3a3a3a" stroke-width="1.1" stroke-dasharray="3.25,2.45"/>
<path d="M437.4,349.55 447.2,349.55 447.2,366.55 456.3,366.55 456.3,383.55 457.2,383.55 457.2,400.55 457.8,400.55 457.8,417.55 458.9,417.55 458.9,434.55 466.5,434.55 466.5,451.55 471.4,451.55 471.4,468.55 519,468.55 519,485.55 519.9,485.55 519.9,502.55" fill="none" stroke="#EC6360" stroke-width="1.6" stroke-linejoin="miter"/>
<path d="" fill="none" stroke="#EC6360" stroke-width="0.95"/>
<path d="M437.4,349.55 443.9,349.55 443.9,353.8 446.1,353.8 446.1,358.1 448.3,358.1 448.3,362.5 457.9,362.5 457.9,366.5 467.5,366.5 467.5,370.4 473.2,370.4 473.2,375.6 477.2,375.6 477.2,380.9 478.5,380.9 478.5,385.3 482.2,385.3 482.2,390 482.6,390 482.6,395 486.1,395 486.1,399.4 487,399.4 487,404.6 493.4,404.6 493.4,409.3 495.5,409.3 495.5,414.3 497.8,414.3 497.8,419.2 499.9,419.2 499.9,423.9 505.4,423.9 505.4,428.9 510.1,428.9 510.1,433.9 524.5,433.9 524.5,438.9 529.6,438.9 529.6,443.7 534.7,443.7 534.7,448.8 535.3,448.8 535.3,453.7 539.3,453.7 539.3,458.5 548.8,458.5 548.8,463.3 558.8,463.3 558.8,468.2 658.7,468.2" fill="none" stroke="#4ECBC2" stroke-width="1.6" stroke-linejoin="miter"/>
<path d="M442.7,353.8h4.2M444.8,351.4v4.2M447.5,362.5h4.2M449.6,360.1v4.2M458.4,366.5h4.2M460.5,364.1v4.2M465.8,370.4h4.2M467.9,368v4.2M480.7,395h4.2M482.8,392.6v4.2M574.5,468.2h4.2M576.6,465.8v4.2M608.4,468.2h4.2M610.5,465.8v4.2M633.6,468.2h4.2M635.7,465.8v4.2M640.2,468.2h4.2M642.3,465.8v4.2M643.5,468.2h4.2M645.6,465.8v4.2M648.9,468.2h4.2M651,465.8v4.2M656.2,468.2h4.2M658.3,465.8v4.2" fill="none" stroke="#4ECBC2" stroke-width="0.95"/>
<rect x="426" y="342.7" width="256.9" height="167.2" fill="none" stroke="#999" stroke-width="1.25"/>
<line x1="423.8" y1="502.7" x2="426" y2="502.7" stroke="#333" stroke-width="0.9"/>
<text x="422.3" y="504.9" font-size="6.1" text-anchor="end" fill="#4d4d4d" stroke="#4d4d4d" stroke-width="0.15">0.00</text>
<line x1="423.8" y1="464.45" x2="426" y2="464.45" stroke="#333" stroke-width="0.9"/>
<text x="422.3" y="466.65" font-size="6.1" text-anchor="end" fill="#4d4d4d" stroke="#4d4d4d" stroke-width="0.15">0.25</text>
<line x1="423.8" y1="426.2" x2="426" y2="426.2" stroke="#333" stroke-width="0.9"/>
<text x="422.3" y="428.4" font-size="6.1" text-anchor="end" fill="#4d4d4d" stroke="#4d4d4d" stroke-width="0.15">0.50</text>
<line x1="423.8" y1="387.95" x2="426" y2="387.95" stroke="#333" stroke-width="0.9"/>
<text x="422.3" y="390.15" font-size="6.1" text-anchor="end" fill="#4d4d4d" stroke="#4d4d4d" stroke-width="0.15">0.75</text>
<line x1="423.8" y1="349.7" x2="426" y2="349.7" stroke="#333" stroke-width="0.9"/>
<text x="422.3" y="351.9" font-size="6.1" text-anchor="end" fill="#4d4d4d" stroke="#4d4d4d" stroke-width="0.15">1.00</text>
<line x1="437.4" y1="509.9" x2="437.4" y2="512.1" stroke="#333" stroke-width="0.9"/>
<text x="437.4" y="518.3" font-size="6.2" text-anchor="middle" fill="#4d4d4d" stroke="#4d4d4d" stroke-width="0.15">0</text>
<line x1="495.9" y1="509.9" x2="495.9" y2="512.1" stroke="#333" stroke-width="0.9"/>
<text x="495.9" y="518.3" font-size="6.2" text-anchor="middle" fill="#4d4d4d" stroke="#4d4d4d" stroke-width="0.15">500</text>
<line x1="554.4" y1="509.9" x2="554.4" y2="512.1" stroke="#333" stroke-width="0.9"/>
<text x="554.4" y="518.3" font-size="6.2" text-anchor="middle" fill="#4d4d4d" stroke="#4d4d4d" stroke-width="0.15">1000</text>
<line x1="612.9" y1="509.9" x2="612.9" y2="512.1" stroke="#333" stroke-width="0.9"/>
<text x="612.9" y="518.3" font-size="6.2" text-anchor="middle" fill="#4d4d4d" stroke="#4d4d4d" stroke-width="0.15">1500</text>
<line x1="671.4" y1="509.9" x2="671.4" y2="512.1" stroke="#333" stroke-width="0.9"/>
<text x="671.4" y="518.3" font-size="6.2" text-anchor="middle" fill="#4d4d4d" stroke="#4d4d4d" stroke-width="0.15">2000</text>
<text x="554.45" y="526.6" font-size="7.3" text-anchor="middle" fill="#000" stroke="#000" stroke-width="0.15">Time (Day)</text>
<text transform="translate(407.1,426.3) rotate(-90)" font-size="7.3" text-anchor="middle" fill="#000">Survival probability</text>
<text x="441.9" y="474.9" font-size="7.3" text-anchor="start" fill="#000" stroke="#000" stroke-width="0.04">p = 0.00061</text>
<text x="426.8" y="541.7" font-size="8.6" text-anchor="start" fill="#000" stroke="#000" stroke-width="0.15">Number at risk</text>
<line x1="467.15" y1="547.5" x2="467.15" y2="583.6" stroke="#f4f4f4" stroke-width="0.9"/><line x1="525.65" y1="547.5" x2="525.65" y2="583.6" stroke="#f4f4f4" stroke-width="0.9"/><line x1="584.15" y1="547.5" x2="584.15" y2="583.6" stroke="#f4f4f4" stroke-width="0.9"/><line x1="642.65" y1="547.5" x2="642.65" y2="583.6" stroke="#f4f4f4" stroke-width="0.9"/><line x1="437.9" y1="547.5" x2="437.9" y2="583.6" stroke="#f0f0f0" stroke-width="1"/><line x1="496.4" y1="547.5" x2="496.4" y2="583.6" stroke="#f0f0f0" stroke-width="1"/><line x1="554.9" y1="547.5" x2="554.9" y2="583.6" stroke="#f0f0f0" stroke-width="1"/><line x1="613.4" y1="547.5" x2="613.4" y2="583.6" stroke="#f0f0f0" stroke-width="1"/><line x1="671.9" y1="547.5" x2="671.9" y2="583.6" stroke="#f0f0f0" stroke-width="1"/><line x1="426.2" y1="556.7" x2="683.3" y2="556.7" stroke="#f0f0f0" stroke-width="1"/><line x1="426.2" y1="573.5" x2="683.3" y2="573.5" stroke="#f0f0f0" stroke-width="1"/>
<rect x="426.2" y="547.5" width="257.1" height="36.1" fill="none" stroke="#999" stroke-width="1.25"/>
<text x="437.9" y="560.4" font-size="8.5" text-anchor="middle" fill="#111" stroke="#111" stroke-width="0.15">9</text>
<text x="437.9" y="577.3" font-size="8.5" text-anchor="middle" fill="#111" stroke="#111" stroke-width="0.15">37</text>
<text x="496.4" y="560.4" font-size="8.5" text-anchor="middle" fill="#111" stroke="#111" stroke-width="0.15">2</text>
<text x="496.4" y="577.3" font-size="8.5" text-anchor="middle" fill="#111" stroke="#111" stroke-width="0.15">18</text>
<text x="554.9" y="560.4" font-size="8.5" text-anchor="middle" fill="#111" stroke="#111" stroke-width="0.15">0</text>
<text x="554.9" y="577.3" font-size="8.5" text-anchor="middle" fill="#111" stroke="#111" stroke-width="0.15">8</text>
<text x="613.4" y="560.4" font-size="8.5" text-anchor="middle" fill="#111" stroke="#111" stroke-width="0.15">0</text>
<text x="613.4" y="577.3" font-size="8.5" text-anchor="middle" fill="#111" stroke="#111" stroke-width="0.15">5</text>
<text x="671.9" y="560.4" font-size="8.5" text-anchor="middle" fill="#111" stroke="#111" stroke-width="0.15">0</text>
<text x="671.9" y="577.3" font-size="8.5" text-anchor="middle" fill="#111" stroke="#111" stroke-width="0.15">0</text>
<text x="422.8" y="558.5" font-size="6.15" text-anchor="end" fill="#EC6360">High</text>
<text x="422.8" y="575.2" font-size="5.85" text-anchor="end" fill="#4ECBC2">Low</text>
<text x="0.2" y="608.8" font-size="19" text-anchor="start" fill="#000" stroke="#000" stroke-width="0.15" font-weight="bold">e</text>
<text x="170.75" y="607.8" font-size="8.85" text-anchor="middle" fill="#000" stroke="#000" stroke-width="0.15">Center A Cohort OS</text>
<text x="132.8" y="625.2" font-size="7.0" text-anchor="start" fill="#000" stroke="#000" stroke-width="0.15">NTR</text>
<line x1="152.4" y1="622.9" x2="162.1" y2="622.9" stroke="#EC6360" stroke-width="1.6"/>
<line x1="157.25" y1="620.6" x2="157.25" y2="624.4" stroke="#EC6360" stroke-width="1"/>
<text x="166.9" y="625.2" font-size="5.8" text-anchor="start" fill="#1a1a1a" stroke="#1a1a1a" stroke-width="0.15">High</text>
<line x1="183.9" y1="622.9" x2="193.4" y2="622.9" stroke="#4ECBC2" stroke-width="1.6"/>
<line x1="188.65" y1="620.6" x2="188.65" y2="624.4" stroke="#4ECBC2" stroke-width="1"/>
<text x="198.2" y="625.2" font-size="5.8" text-anchor="start" fill="#1a1a1a" stroke="#1a1a1a" stroke-width="0.15">Low</text>
<line x1="82.75" y1="640.1" x2="82.75" y2="807.3" stroke="#f4f4f4" stroke-width="0.9"/><line x1="141.25" y1="640.1" x2="141.25" y2="807.3" stroke="#f4f4f4" stroke-width="0.9"/><line x1="199.75" y1="640.1" x2="199.75" y2="807.3" stroke="#f4f4f4" stroke-width="0.9"/><line x1="258.25" y1="640.1" x2="258.25" y2="807.3" stroke="#f4f4f4" stroke-width="0.9"/><line x1="42.3" y1="780.97" x2="299.2" y2="780.97" stroke="#f4f4f4" stroke-width="0.9"/><line x1="42.3" y1="742.72" x2="299.2" y2="742.72" stroke="#f4f4f4" stroke-width="0.9"/><line x1="42.3" y1="704.47" x2="299.2" y2="704.47" stroke="#f4f4f4" stroke-width="0.9"/><line x1="42.3" y1="666.22" x2="299.2" y2="666.22" stroke="#f4f4f4" stroke-width="0.9"/><line x1="53.5" y1="640.1" x2="53.5" y2="807.3" stroke="#f0f0f0" stroke-width="1"/><line x1="112" y1="640.1" x2="112" y2="807.3" stroke="#f0f0f0" stroke-width="1"/><line x1="170.5" y1="640.1" x2="170.5" y2="807.3" stroke="#f0f0f0" stroke-width="1"/><line x1="229" y1="640.1" x2="229" y2="807.3" stroke="#f0f0f0" stroke-width="1"/><line x1="287.5" y1="640.1" x2="287.5" y2="807.3" stroke="#f0f0f0" stroke-width="1"/><line x1="42.3" y1="800.1" x2="299.2" y2="800.1" stroke="#f0f0f0" stroke-width="1"/><line x1="42.3" y1="761.85" x2="299.2" y2="761.85" stroke="#f0f0f0" stroke-width="1"/><line x1="42.3" y1="723.6" x2="299.2" y2="723.6" stroke="#f0f0f0" stroke-width="1"/><line x1="42.3" y1="685.35" x2="299.2" y2="685.35" stroke="#f0f0f0" stroke-width="1"/><line x1="42.3" y1="647.1" x2="299.2" y2="647.1" stroke="#f0f0f0" stroke-width="1"/>
<path d="M53.5,723.4H159.5M85.9,799.9V723.4M159.5,799.9V723.4" fill="none" stroke="#3a3a3a" stroke-width="1.1" stroke-dasharray="3.25,2.45"/>
<path d="M53.5,646.9 59.2,646.9 59.2,649.1 64.4,649.1 64.4,650.4 65.8,650.4 65.8,651.3 68.4,651.3 68.4,655.7 71.3,655.7 71.3,670.3 74.2,670.3 74.2,678.6 77,678.6 77,689.2 80.3,689.2 80.3,710.1 82.8,710.1 82.8,718.6 85.9,718.6 85.9,724 88.5,724 88.5,735.4 91.6,735.4 91.6,747.7 94.2,747.7 94.2,752 100.3,752 100.3,753.6 103.4,753.6 103.4,760.4 106.5,760.4 106.5,768.6 109.3,768.6 109.3,773 112.3,773 112.3,774.7 118,774.7 118,779.1 120.6,779.1 120.6,781.3 123.7,781.3 123.7,783.5 126.6,783.5 126.6,785.6 129.6,785.6 129.6,790.5 159.2,790.5 159.2,799.9" fill="none" stroke="#EC6360" stroke-width="1.6" stroke-linejoin="miter"/>
<path d="M121.6,783.5h4.2M123.7,781.1v4.2M130.4,790.5h4.2M132.5,788.1v4.2M136.5,790.5h4.2M138.6,788.1v4.2M148.3,790.5h4.2M150.4,788.1v4.2" fill="none" stroke="#EC6360" stroke-width="0.95"/>
<path d="M53.5,646.9 62.7,646.9 62.7,649 76.7,649 76.7,650.9 82.8,650.9 82.8,652.5 88.5,652.5 88.5,656.1 91.5,656.1 91.5,663.5 94.5,663.5 94.5,664.8 97.6,664.8 97.6,666.8 100.5,666.8 100.5,676.2 103.3,676.2 103.3,678 106.1,678 106.1,679.7 109.2,679.7 109.2,685.4 114.7,685.4 114.7,686.5 117.6,686.5 117.6,688.6 123.8,688.6 123.8,692.4 126.4,692.4 126.4,694 129,694 129,695.9 132.5,695.9 132.5,698.1 135.6,698.1 135.6,699.9 141.3,699.9 141.3,702.1 144.3,702.1 144.3,704.3 150.5,704.3 150.5,710.4 153.1,710.4 153.1,716.1 156.2,716.1 156.2,718.3 159.2,718.3 159.2,727.9 164.9,727.9 164.9,734 200.4,734 200.4,737.2 202.5,737.2 202.5,740.5 204.6,740.5 204.6,744.9 213.5,744.9 213.5,748.6 234.3,748.6 234.3,752.6 236.5,752.6 236.5,754.3 238.7,754.3 238.7,759.6 289,759.6" fill="none" stroke="#4ECBC2" stroke-width="1.6" stroke-linejoin="miter"/>
<path d="M92.4,664.8h4.2M94.5,662.4v4.2M118.6,688.6h4.2M120.7,686.2v4.2M125.2,694h4.2M127.3,691.6v4.2M128.7,695.9h4.2M130.8,693.5v4.2M130.9,698.1h4.2M133,695.7v4.2M136.1,699.9h4.2M138.2,697.5v4.2M138.3,699.9h4.2M140.4,697.5v4.2M145.3,704.3h4.2M147.4,701.9v4.2M147.9,704.3h4.2M150,701.9v4.2M153.6,716.1h4.2M155.7,713.7v4.2M158.9,727.9h4.2M161,725.5v4.2M160.2,727.9h4.2M162.3,725.5v4.2M168.7,734h4.2M170.8,731.6v4.2M174.6,734h4.2M176.7,731.6v4.2M176.4,734h4.2M178.5,731.6v4.2M182.7,734h4.2M184.8,731.6v4.2M209.4,744.9h4.2M211.5,742.5v4.2M221,748.6h4.2M223.1,746.2v4.2M226.5,748.6h4.2M228.6,746.2v4.2M229.6,748.6h4.2M231.7,746.2v4.2M232.2,752.6h4.2M234.3,750.2v4.2M242.1,759.6h4.2M244.2,757.2v4.2M243.9,759.6h4.2M246,757.2v4.2M253.2,759.6h4.2M255.3,757.2v4.2M258.4,759.6h4.2M260.5,757.2v4.2M261.5,759.6h4.2M263.6,757.2v4.2M286.5,759.6h4.2M288.6,757.2v4.2" fill="none" stroke="#4ECBC2" stroke-width="0.95"/>
<rect x="42.3" y="640.1" width="256.9" height="167.2" fill="none" stroke="#999" stroke-width="1.25"/>
<line x1="40.1" y1="800.1" x2="42.3" y2="800.1" stroke="#333" stroke-width="0.9"/>
<text x="38.6" y="802.3" font-size="6.1" text-anchor="end" fill="#4d4d4d" stroke="#4d4d4d" stroke-width="0.15">0.00</text>
<line x1="40.1" y1="761.85" x2="42.3" y2="761.85" stroke="#333" stroke-width="0.9"/>
<text x="38.6" y="764.05" font-size="6.1" text-anchor="end" fill="#4d4d4d" stroke="#4d4d4d" stroke-width="0.15">0.25</text>
<line x1="40.1" y1="723.6" x2="42.3" y2="723.6" stroke="#333" stroke-width="0.9"/>
<text x="38.6" y="725.8" font-size="6.1" text-anchor="end" fill="#4d4d4d" stroke="#4d4d4d" stroke-width="0.15">0.50</text>
<line x1="40.1" y1="685.35" x2="42.3" y2="685.35" stroke="#333" stroke-width="0.9"/>
<text x="38.6" y="687.55" font-size="6.1" text-anchor="end" fill="#4d4d4d" stroke="#4d4d4d" stroke-width="0.15">0.75</text>
<line x1="40.1" y1="647.1" x2="42.3" y2="647.1" stroke="#333" stroke-width="0.9"/>
<text x="38.6" y="649.3" font-size="6.1" text-anchor="end" fill="#4d4d4d" stroke="#4d4d4d" stroke-width="0.15">1.00</text>
<line x1="53.5" y1="807.3" x2="53.5" y2="809.5" stroke="#333" stroke-width="0.9"/>
<text x="53.5" y="815.7" font-size="6.2" text-anchor="middle" fill="#4d4d4d" stroke="#4d4d4d" stroke-width="0.15">0</text>
<line x1="112" y1="807.3" x2="112" y2="809.5" stroke="#333" stroke-width="0.9"/>
<text x="112" y="815.7" font-size="6.2" text-anchor="middle" fill="#4d4d4d" stroke="#4d4d4d" stroke-width="0.15">20</text>
<line x1="170.5" y1="807.3" x2="170.5" y2="809.5" stroke="#333" stroke-width="0.9"/>
<text x="170.5" y="815.7" font-size="6.2" text-anchor="middle" fill="#4d4d4d" stroke="#4d4d4d" stroke-width="0.15">40</text>
<line x1="229" y1="807.3" x2="229" y2="809.5" stroke="#333" stroke-width="0.9"/>
<text x="229" y="815.7" font-size="6.2" text-anchor="middle" fill="#4d4d4d" stroke="#4d4d4d" stroke-width="0.15">60</text>
<line x1="287.5" y1="807.3" x2="287.5" y2="809.5" stroke="#333" stroke-width="0.9"/>
<text x="287.5" y="815.7" font-size="6.2" text-anchor="middle" fill="#4d4d4d" stroke="#4d4d4d" stroke-width="0.15">80</text>
<text x="170.75" y="824" font-size="7.3" text-anchor="middle" fill="#000" stroke="#000" stroke-width="0.15">Time (Month)</text>
<text transform="translate(23.4,723.7) rotate(-90)" font-size="7.3" text-anchor="middle" fill="#000">Survival probability</text>
<text x="58.4" y="771.9" font-size="7.3" text-anchor="start" fill="#000" stroke="#000" stroke-width="0.04">p < 0.0001</text>
<text x="43.1" y="839.1" font-size="8.6" text-anchor="start" fill="#000" stroke="#000" stroke-width="0.15">Number at risk</text>
<line x1="83.25" y1="844.9" x2="83.25" y2="881" stroke="#f4f4f4" stroke-width="0.9"/><line x1="141.75" y1="844.9" x2="141.75" y2="881" stroke="#f4f4f4" stroke-width="0.9"/><line x1="200.25" y1="844.9" x2="200.25" y2="881" stroke="#f4f4f4" stroke-width="0.9"/><line x1="258.75" y1="844.9" x2="258.75" y2="881" stroke="#f4f4f4" stroke-width="0.9"/><line x1="54" y1="844.9" x2="54" y2="881" stroke="#f0f0f0" stroke-width="1"/><line x1="112.5" y1="844.9" x2="112.5" y2="881" stroke="#f0f0f0" stroke-width="1"/><line x1="171" y1="844.9" x2="171" y2="881" stroke="#f0f0f0" stroke-width="1"/><line x1="229.5" y1="844.9" x2="229.5" y2="881" stroke="#f0f0f0" stroke-width="1"/><line x1="288" y1="844.9" x2="288" y2="881" stroke="#f0f0f0" stroke-width="1"/><line x1="42.5" y1="854.1" x2="299.6" y2="854.1" stroke="#f0f0f0" stroke-width="1"/><line x1="42.5" y1="870.9" x2="299.6" y2="870.9" stroke="#f0f0f0" stroke-width="1"/>
<rect x="42.5" y="844.9" width="257.1" height="36.1" fill="none" stroke="#999" stroke-width="1.25"/>
<text x="54" y="857.8" font-size="8.5" text-anchor="middle" fill="#111" stroke="#111" stroke-width="0.15">73</text>
<text x="54" y="874.7" font-size="8.5" text-anchor="middle" fill="#111" stroke="#111" stroke-width="0.15">85</text>
<text x="112.5" y="857.8" font-size="8.5" text-anchor="middle" fill="#111" stroke="#111" stroke-width="0.15">13</text>
<text x="112.5" y="874.7" font-size="8.5" text-anchor="middle" fill="#111" stroke="#111" stroke-width="0.15">63</text>
<text x="171" y="857.8" font-size="8.5" text-anchor="middle" fill="#111" stroke="#111" stroke-width="0.15">0</text>
<text x="171" y="874.7" font-size="8.5" text-anchor="middle" fill="#111" stroke="#111" stroke-width="0.15">22</text>
<text x="229.5" y="857.8" font-size="8.5" text-anchor="middle" fill="#111" stroke="#111" stroke-width="0.15">0</text>
<text x="229.5" y="874.7" font-size="8.5" text-anchor="middle" fill="#111" stroke="#111" stroke-width="0.15">12</text>
<text x="288" y="857.8" font-size="8.5" text-anchor="middle" fill="#111" stroke="#111" stroke-width="0.15">0</text>
<text x="288" y="874.7" font-size="8.5" text-anchor="middle" fill="#111" stroke="#111" stroke-width="0.15">1</text>
<text x="39.1" y="855.9" font-size="6.15" text-anchor="end" fill="#EC6360">High</text>
<text x="39.1" y="872.6" font-size="5.85" text-anchor="end" fill="#4ECBC2">Low</text>
<text x="384.2" y="608.8" font-size="19" text-anchor="start" fill="#000" stroke="#000" stroke-width="0.15" font-weight="bold">f</text>
<text x="554.45" y="607.8" font-size="8.85" text-anchor="middle" fill="#000" stroke="#000" stroke-width="0.15">Center A Cohort RFS</text>
<text x="516.5" y="625.2" font-size="7.0" text-anchor="start" fill="#000" stroke="#000" stroke-width="0.15">NTR</text>
<line x1="536.1" y1="622.9" x2="545.8" y2="622.9" stroke="#EC6360" stroke-width="1.6"/>
<line x1="540.95" y1="620.6" x2="540.95" y2="624.4" stroke="#EC6360" stroke-width="1"/>
<text x="550.6" y="625.2" font-size="5.8" text-anchor="start" fill="#1a1a1a" stroke="#1a1a1a" stroke-width="0.15">High</text>
<line x1="567.6" y1="622.9" x2="577.1" y2="622.9" stroke="#4ECBC2" stroke-width="1.6"/>
<line x1="572.35" y1="620.6" x2="572.35" y2="624.4" stroke="#4ECBC2" stroke-width="1"/>
<text x="581.9" y="625.2" font-size="5.8" text-anchor="start" fill="#1a1a1a" stroke="#1a1a1a" stroke-width="0.15">Low</text>
<line x1="466.65" y1="640.1" x2="466.65" y2="807.3" stroke="#f4f4f4" stroke-width="0.9"/><line x1="525.15" y1="640.1" x2="525.15" y2="807.3" stroke="#f4f4f4" stroke-width="0.9"/><line x1="583.65" y1="640.1" x2="583.65" y2="807.3" stroke="#f4f4f4" stroke-width="0.9"/><line x1="642.15" y1="640.1" x2="642.15" y2="807.3" stroke="#f4f4f4" stroke-width="0.9"/><line x1="426" y1="780.97" x2="682.9" y2="780.97" stroke="#f4f4f4" stroke-width="0.9"/><line x1="426" y1="742.72" x2="682.9" y2="742.72" stroke="#f4f4f4" stroke-width="0.9"/><line x1="426" y1="704.47" x2="682.9" y2="704.47" stroke="#f4f4f4" stroke-width="0.9"/><line x1="426" y1="666.22" x2="682.9" y2="666.22" stroke="#f4f4f4" stroke-width="0.9"/><line x1="437.4" y1="640.1" x2="437.4" y2="807.3" stroke="#f0f0f0" stroke-width="1"/><line x1="495.9" y1="640.1" x2="495.9" y2="807.3" stroke="#f0f0f0" stroke-width="1"/><line x1="554.4" y1="640.1" x2="554.4" y2="807.3" stroke="#f0f0f0" stroke-width="1"/><line x1="612.9" y1="640.1" x2="612.9" y2="807.3" stroke="#f0f0f0" stroke-width="1"/><line x1="671.4" y1="640.1" x2="671.4" y2="807.3" stroke="#f0f0f0" stroke-width="1"/><line x1="426" y1="800.1" x2="682.9" y2="800.1" stroke="#f0f0f0" stroke-width="1"/><line x1="426" y1="761.85" x2="682.9" y2="761.85" stroke="#f0f0f0" stroke-width="1"/><line x1="426" y1="723.6" x2="682.9" y2="723.6" stroke="#f0f0f0" stroke-width="1"/><line x1="426" y1="685.35" x2="682.9" y2="685.35" stroke="#f0f0f0" stroke-width="1"/><line x1="426" y1="647.1" x2="682.9" y2="647.1" stroke="#f0f0f0" stroke-width="1"/>
<path d="M437.4,723.4H505M457.7,799.9V723.4M505,799.9V723.4" fill="none" stroke="#3a3a3a" stroke-width="1.1" stroke-dasharray="3.25,2.45"/>
<path d="M437.4,646.9 440.1,646.9 440.1,649.1 443.1,649.1 443.1,664.2 446.2,664.2 446.2,683 449,683 449,697.2 452.1,697.2 452.1,708.1 455.1,708.1 455.1,718.4 458,718.4 458,732.9 461,732.9 461,756.2 463.8,756.2 463.8,760.4 466.9,760.4 466.9,772.6 469.6,772.6 469.6,785.2 472.5,785.2 472.5,791.7 478.3,791.7 478.3,794.4 481.4,794.4 481.4,797.4 487.1,797.4 487.1,799.4" fill="none" stroke="#EC6360" stroke-width="1.6" stroke-linejoin="miter"/>
<path d="M473.2,791.7h4.2M475.3,789.3v4.2" fill="none" stroke="#EC6360" stroke-width="0.95"/>
<path d="M437.4,646.9 448.9,646.9 448.9,650.8 451.9,650.8 451.9,652.6 455,652.6 455,654.1 457.7,654.1 457.7,658.2 460.7,658.2 460.7,661.6 463.6,661.6 463.6,667.2 466.5,667.2 466.5,672.7 469.6,672.7 469.6,683.6 472.6,683.6 472.6,689.1 475.5,689.1 475.5,692.9 478.3,692.9 478.3,696.2 481.3,696.2 481.3,699.8 487.2,699.8 487.2,701.1 490.3,701.1 490.3,703.3 493.1,703.3 493.1,710.8 495.9,710.8 495.9,714.3 499,714.3 499,716 502.1,716 502.1,721.3 505,721.3 505,726.5 507.3,726.5 507.3,728.7 513.9,728.7 513.9,730.5 519.3,730.5 519.3,734.4 522.2,734.4 522.2,736.6 525.3,736.6 525.3,739.7 527.9,739.7 527.9,742.3 531,742.3 531,746.7 571.9,746.7 571.9,750.2 580.9,750.2 580.9,753.9 614.9,753.9 614.9,758.4 672.6,758.4" fill="none" stroke="#4ECBC2" stroke-width="1.6" stroke-linejoin="miter"/>
<path d="M444.1,646.9h4.2M446.2,644.5v4.2M510.9,728.7h4.2M513,726.3v4.2M531.9,746.7h4.2M534,744.3v4.2M537.4,746.7h4.2M539.5,744.3v4.2M543.3,746.7h4.2M545.4,744.3v4.2M546,746.7h4.2M548.1,744.3v4.2M552.8,746.7h4.2M554.9,744.3v4.2M558.4,746.7h4.2M560.5,744.3v4.2M561.4,746.7h4.2M563.5,744.3v4.2M567.5,746.7h4.2M569.6,744.3v4.2M593.5,753.9h4.2M595.6,751.5v4.2M605.3,753.9h4.2M607.4,751.5v4.2M611.2,753.9h4.2M613.3,751.5v4.2M616.2,758.4h4.2M618.3,756v4.2M625.7,758.4h4.2M627.8,756v4.2M628.6,758.4h4.2M630.7,756v4.2M637.7,758.4h4.2M639.8,756v4.2M643.3,758.4h4.2M645.4,756v4.2M646,758.4h4.2M648.1,756v4.2M670,758.4h4.2M672.1,756v4.2" fill="none" stroke="#4ECBC2" stroke-width="0.95"/>
<rect x="426" y="640.1" width="256.9" height="167.2" fill="none" stroke="#999" stroke-width="1.25"/>
<line x1="423.8" y1="800.1" x2="426" y2="800.1" stroke="#333" stroke-width="0.9"/>
<text x="422.3" y="802.3" font-size="6.1" text-anchor="end" fill="#4d4d4d" stroke="#4d4d4d" stroke-width="0.15">0.00</text>
<line x1="423.8" y1="761.85" x2="426" y2="761.85" stroke="#333" stroke-width="0.9"/>
<text x="422.3" y="764.05" font-size="6.1" text-anchor="end" fill="#4d4d4d" stroke="#4d4d4d" stroke-width="0.15">0.25</text>
<line x1="423.8" y1="723.6" x2="426" y2="723.6" stroke="#333" stroke-width="0.9"/>
<text x="422.3" y="725.8" font-size="6.1" text-anchor="end" fill="#4d4d4d" stroke="#4d4d4d" stroke-width="0.15">0.50</text>
<line x1="423.8" y1="685.35" x2="426" y2="685.35" stroke="#333" stroke-width="0.9"/>
<text x="422.3" y="687.55" font-size="6.1" text-anchor="end" fill="#4d4d4d" stroke="#4d4d4d" stroke-width="0.15">0.75</text>
<line x1="423.8" y1="647.1" x2="426" y2="647.1" stroke="#333" stroke-width="0.9"/>
<text x="422.3" y="649.3" font-size="6.1" text-anchor="end" fill="#4d4d4d" stroke="#4d4d4d" stroke-width="0.15">1.00</text>
<line x1="437.4" y1="807.3" x2="437.4" y2="809.5" stroke="#333" stroke-width="0.9"/>
<text x="437.4" y="815.7" font-size="6.2" text-anchor="middle" fill="#4d4d4d" stroke="#4d4d4d" stroke-width="0.15">0</text>
<line x1="495.9" y1="807.3" x2="495.9" y2="809.5" stroke="#333" stroke-width="0.9"/>
<text x="495.9" y="815.7" font-size="6.2" text-anchor="middle" fill="#4d4d4d" stroke="#4d4d4d" stroke-width="0.15">20</text>
<line x1="554.4" y1="807.3" x2="554.4" y2="809.5" stroke="#333" stroke-width="0.9"/>
<text x="554.4" y="815.7" font-size="6.2" text-anchor="middle" fill="#4d4d4d" stroke="#4d4d4d" stroke-width="0.15">40</text>
<line x1="612.9" y1="807.3" x2="612.9" y2="809.5" stroke="#333" stroke-width="0.9"/>
<text x="612.9" y="815.7" font-size="6.2" text-anchor="middle" fill="#4d4d4d" stroke="#4d4d4d" stroke-width="0.15">60</text>
<line x1="671.4" y1="807.3" x2="671.4" y2="809.5" stroke="#333" stroke-width="0.9"/>
<text x="671.4" y="815.7" font-size="6.2" text-anchor="middle" fill="#4d4d4d" stroke="#4d4d4d" stroke-width="0.15">80</text>
<text x="554.45" y="824" font-size="7.3" text-anchor="middle" fill="#000" stroke="#000" stroke-width="0.15">Time (Month)</text>
<text transform="translate(407.1,723.7) rotate(-90)" font-size="7.3" text-anchor="middle" fill="#000">Survival probability</text>
<text x="442.3" y="771.9" font-size="7.3" text-anchor="start" fill="#000" stroke="#000" stroke-width="0.04">p < 0.0001</text>
<text x="426.8" y="839.1" font-size="8.6" text-anchor="start" fill="#000" stroke="#000" stroke-width="0.15">Number at risk</text>
<line x1="467.15" y1="844.9" x2="467.15" y2="881" stroke="#f4f4f4" stroke-width="0.9"/><line x1="525.65" y1="844.9" x2="525.65" y2="881" stroke="#f4f4f4" stroke-width="0.9"/><line x1="584.15" y1="844.9" x2="584.15" y2="881" stroke="#f4f4f4" stroke-width="0.9"/><line x1="642.65" y1="844.9" x2="642.65" y2="881" stroke="#f4f4f4" stroke-width="0.9"/><line x1="437.9" y1="844.9" x2="437.9" y2="881" stroke="#f0f0f0" stroke-width="1"/><line x1="496.4" y1="844.9" x2="496.4" y2="881" stroke="#f0f0f0" stroke-width="1"/><line x1="554.9" y1="844.9" x2="554.9" y2="881" stroke="#f0f0f0" stroke-width="1"/><line x1="613.4" y1="844.9" x2="613.4" y2="881" stroke="#f0f0f0" stroke-width="1"/><line x1="671.9" y1="844.9" x2="671.9" y2="881" stroke="#f0f0f0" stroke-width="1"/><line x1="426.2" y1="854.1" x2="683.3" y2="854.1" stroke="#f0f0f0" stroke-width="1"/><line x1="426.2" y1="870.9" x2="683.3" y2="870.9" stroke="#f0f0f0" stroke-width="1"/>
<rect x="426.2" y="844.9" width="257.1" height="36.1" fill="none" stroke="#999" stroke-width="1.25"/>
<text x="437.9" y="857.8" font-size="8.5" text-anchor="middle" fill="#111" stroke="#111" stroke-width="0.15">73</text>
<text x="437.9" y="874.7" font-size="8.5" text-anchor="middle" fill="#111" stroke="#111" stroke-width="0.15">85</text>
<text x="496.4" y="857.8" font-size="8.5" text-anchor="middle" fill="#111" stroke="#111" stroke-width="0.15">0</text>
<text x="496.4" y="874.7" font-size="8.5" text-anchor="middle" fill="#111" stroke="#111" stroke-width="0.15">49</text>
<text x="554.9" y="857.8" font-size="8.5" text-anchor="middle" fill="#111" stroke="#111" stroke-width="0.15">0</text>
<text x="554.9" y="874.7" font-size="8.5" text-anchor="middle" fill="#111" stroke="#111" stroke-width="0.15">19</text>
<text x="613.4" y="857.8" font-size="8.5" text-anchor="middle" fill="#111" stroke="#111" stroke-width="0.15">0</text>
<text x="613.4" y="874.7" font-size="8.5" text-anchor="middle" fill="#111" stroke="#111" stroke-width="0.15">11</text>
<text x="671.9" y="857.8" font-size="8.5" text-anchor="middle" fill="#111" stroke="#111" stroke-width="0.15">0</text>
<text x="671.9" y="874.7" font-size="8.5" text-anchor="middle" fill="#111" stroke="#111" stroke-width="0.15">1</text>
<text x="422.8" y="855.9" font-size="6.15" text-anchor="end" fill="#EC6360">High</text>
<text x="422.8" y="872.6" font-size="5.85" text-anchor="end" fill="#4ECBC2">Low</text>
<text x="0.2" y="906.2" font-size="19" text-anchor="start" fill="#000" stroke="#000" stroke-width="0.15" font-weight="bold">g</text>
<text x="170.75" y="905.2" font-size="8.85" text-anchor="middle" fill="#000" stroke="#000" stroke-width="0.15">Ex−val Cohort OS</text>
<text x="132.8" y="922.6" font-size="7.0" text-anchor="start" fill="#000" stroke="#000" stroke-width="0.15">NTR</text>
<line x1="152.4" y1="920.3" x2="162.1" y2="920.3" stroke="#EC6360" stroke-width="1.6"/>
<line x1="157.25" y1="918" x2="157.25" y2="921.8" stroke="#EC6360" stroke-width="1"/>
<text x="166.9" y="922.6" font-size="5.8" text-anchor="start" fill="#1a1a1a" stroke="#1a1a1a" stroke-width="0.15">High</text>
<line x1="183.9" y1="920.3" x2="193.4" y2="920.3" stroke="#4ECBC2" stroke-width="1.6"/>
<line x1="188.65" y1="918" x2="188.65" y2="921.8" stroke="#4ECBC2" stroke-width="1"/>
<text x="198.2" y="922.6" font-size="5.8" text-anchor="start" fill="#1a1a1a" stroke="#1a1a1a" stroke-width="0.15">Low</text>
<line x1="76.9" y1="937.5" x2="76.9" y2="1104.7" stroke="#f4f4f4" stroke-width="0.9"/><line x1="123.7" y1="937.5" x2="123.7" y2="1104.7" stroke="#f4f4f4" stroke-width="0.9"/><line x1="170.5" y1="937.5" x2="170.5" y2="1104.7" stroke="#f4f4f4" stroke-width="0.9"/><line x1="217.3" y1="937.5" x2="217.3" y2="1104.7" stroke="#f4f4f4" stroke-width="0.9"/><line x1="264.1" y1="937.5" x2="264.1" y2="1104.7" stroke="#f4f4f4" stroke-width="0.9"/><line x1="42.3" y1="1078.38" x2="299.2" y2="1078.38" stroke="#f4f4f4" stroke-width="0.9"/><line x1="42.3" y1="1040.12" x2="299.2" y2="1040.12" stroke="#f4f4f4" stroke-width="0.9"/><line x1="42.3" y1="1001.88" x2="299.2" y2="1001.88" stroke="#f4f4f4" stroke-width="0.9"/><line x1="42.3" y1="963.62" x2="299.2" y2="963.62" stroke="#f4f4f4" stroke-width="0.9"/><line x1="53.5" y1="937.5" x2="53.5" y2="1104.7" stroke="#f0f0f0" stroke-width="1"/><line x1="100.3" y1="937.5" x2="100.3" y2="1104.7" stroke="#f0f0f0" stroke-width="1"/><line x1="147.1" y1="937.5" x2="147.1" y2="1104.7" stroke="#f0f0f0" stroke-width="1"/><line x1="193.9" y1="937.5" x2="193.9" y2="1104.7" stroke="#f0f0f0" stroke-width="1"/><line x1="240.7" y1="937.5" x2="240.7" y2="1104.7" stroke="#f0f0f0" stroke-width="1"/><line x1="287.5" y1="937.5" x2="287.5" y2="1104.7" stroke="#f0f0f0" stroke-width="1"/><line x1="42.3" y1="1097.5" x2="299.2" y2="1097.5" stroke="#f0f0f0" stroke-width="1"/><line x1="42.3" y1="1059.25" x2="299.2" y2="1059.25" stroke="#f0f0f0" stroke-width="1"/><line x1="42.3" y1="1021" x2="299.2" y2="1021" stroke="#f0f0f0" stroke-width="1"/><line x1="42.3" y1="982.75" x2="299.2" y2="982.75" stroke="#f0f0f0" stroke-width="1"/><line x1="42.3" y1="944.5" x2="299.2" y2="944.5" stroke="#f0f0f0" stroke-width="1"/>
<path d="M53.5,1020.75H189.5M114.6,1097.25V1020.75M189.5,1097.25V1020.75" fill="none" stroke="#3a3a3a" stroke-width="1.1" stroke-dasharray="3.25,2.45"/>
<path d="M53.5,944.25 62.7,944.25 62.7,956.6 81.7,956.6 81.7,968.9 91.2,968.9 91.2,980.9 96,980.9 96,987.5 100.4,987.5 100.4,993.7 104.7,993.7 104.7,1000.2 109.6,1000.2 109.6,1015.2 114.6,1015.2 114.6,1048.6 119.6,1048.6 119.6,1073.1 166,1073.1 166,1085.2 185.8,1085.2" fill="none" stroke="#EC6360" stroke-width="1.6" stroke-linejoin="miter"/>
<path d="M88.4,968.9h4.2M90.5,966.5v4.2M98.7,993.7h4.2M100.8,991.3v4.2M103.7,1000.2h4.2M105.8,997.8v4.2M107.6,1015.2h4.2M109.7,1012.8v4.2M131.1,1073.1h4.2M133.2,1070.7v4.2M183.2,1085.2h4.2M185.3,1082.8v4.2" fill="none" stroke="#EC6360" stroke-width="0.95"/>
<path d="M53.5,944.25 109.6,944.25 109.6,953.9 138,953.9 138,964.4 147.4,964.4 147.4,974.7 156.9,974.7 156.9,986.3 166,986.3 166,996.8 175.5,996.8 175.5,1009.3 189.5,1009.3 189.5,1026.8 194.1,1026.8 194.1,1044.4 299.2,1044.4" fill="none" stroke="#4ECBC2" stroke-width="1.6" stroke-linejoin="miter"/>
<path d="M84,944.25h4.2M86.1,941.85v4.2M107.8,953.9h4.2M109.9,951.5v4.2M149.7,974.7h4.2M151.8,972.3v4.2M168.3,996.8h4.2M170.4,994.4v4.2M183.2,1009.3h4.2M185.3,1006.9v4.2M215,1044.4h4.2M217.1,1042v4.2M248.2,1044.4h4.2M250.3,1042v4.2" fill="none" stroke="#4ECBC2" stroke-width="0.95"/>
<rect x="42.3" y="937.5" width="256.9" height="167.2" fill="none" stroke="#999" stroke-width="1.25"/>
<line x1="40.1" y1="1097.5" x2="42.3" y2="1097.5" stroke="#333" stroke-width="0.9"/>
<text x="38.6" y="1099.7" font-size="6.1" text-anchor="end" fill="#4d4d4d" stroke="#4d4d4d" stroke-width="0.15">0.00</text>
<line x1="40.1" y1="1059.25" x2="42.3" y2="1059.25" stroke="#333" stroke-width="0.9"/>
<text x="38.6" y="1061.45" font-size="6.1" text-anchor="end" fill="#4d4d4d" stroke="#4d4d4d" stroke-width="0.15">0.25</text>
<line x1="40.1" y1="1021" x2="42.3" y2="1021" stroke="#333" stroke-width="0.9"/>
<text x="38.6" y="1023.2" font-size="6.1" text-anchor="end" fill="#4d4d4d" stroke="#4d4d4d" stroke-width="0.15">0.50</text>
<line x1="40.1" y1="982.75" x2="42.3" y2="982.75" stroke="#333" stroke-width="0.9"/>
<text x="38.6" y="984.95" font-size="6.1" text-anchor="end" fill="#4d4d4d" stroke="#4d4d4d" stroke-width="0.15">0.75</text>
<line x1="40.1" y1="944.5" x2="42.3" y2="944.5" stroke="#333" stroke-width="0.9"/>
<text x="38.6" y="946.7" font-size="6.1" text-anchor="end" fill="#4d4d4d" stroke="#4d4d4d" stroke-width="0.15">1.00</text>
<line x1="53.5" y1="1104.7" x2="53.5" y2="1106.9" stroke="#333" stroke-width="0.9"/>
<text x="53.5" y="1113.1" font-size="6.2" text-anchor="middle" fill="#4d4d4d" stroke="#4d4d4d" stroke-width="0.15">0</text>
<line x1="100.3" y1="1104.7" x2="100.3" y2="1106.9" stroke="#333" stroke-width="0.9"/>
<text x="100.3" y="1113.1" font-size="6.2" text-anchor="middle" fill="#4d4d4d" stroke="#4d4d4d" stroke-width="0.15">10</text>
<line x1="147.1" y1="1104.7" x2="147.1" y2="1106.9" stroke="#333" stroke-width="0.9"/>
<text x="147.1" y="1113.1" font-size="6.2" text-anchor="middle" fill="#4d4d4d" stroke="#4d4d4d" stroke-width="0.15">20</text>
<line x1="193.9" y1="1104.7" x2="193.9" y2="1106.9" stroke="#333" stroke-width="0.9"/>
<text x="193.9" y="1113.1" font-size="6.2" text-anchor="middle" fill="#4d4d4d" stroke="#4d4d4d" stroke-width="0.15">30</text>
<line x1="240.7" y1="1104.7" x2="240.7" y2="1106.9" stroke="#333" stroke-width="0.9"/>
<text x="240.7" y="1113.1" font-size="6.2" text-anchor="middle" fill="#4d4d4d" stroke="#4d4d4d" stroke-width="0.15">40</text>
<line x1="287.5" y1="1104.7" x2="287.5" y2="1106.9" stroke="#333" stroke-width="0.9"/>
<text x="287.5" y="1113.1" font-size="6.2" text-anchor="middle" fill="#4d4d4d" stroke="#4d4d4d" stroke-width="0.15">50</text>
<text x="170.75" y="1121.4" font-size="7.3" text-anchor="middle" fill="#000" stroke="#000" stroke-width="0.15">Time (Month)</text>
<text transform="translate(23.4,1021.1) rotate(-90)" font-size="7.3" text-anchor="middle" fill="#000">Survival probability</text>
<text x="58.8" y="1069.3" font-size="7.3" text-anchor="start" fill="#000" stroke="#000" stroke-width="0.04">p < 0.0001</text>
<text x="43.1" y="1136.5" font-size="8.6" text-anchor="start" fill="#000" stroke="#000" stroke-width="0.15">Number at risk</text>
<line x1="77.4" y1="1142.3" x2="77.4" y2="1178.4" stroke="#f4f4f4" stroke-width="0.9"/><line x1="124.2" y1="1142.3" x2="124.2" y2="1178.4" stroke="#f4f4f4" stroke-width="0.9"/><line x1="171" y1="1142.3" x2="171" y2="1178.4" stroke="#f4f4f4" stroke-width="0.9"/><line x1="217.8" y1="1142.3" x2="217.8" y2="1178.4" stroke="#f4f4f4" stroke-width="0.9"/><line x1="264.6" y1="1142.3" x2="264.6" y2="1178.4" stroke="#f4f4f4" stroke-width="0.9"/><line x1="54" y1="1142.3" x2="54" y2="1178.4" stroke="#f0f0f0" stroke-width="1"/><line x1="100.8" y1="1142.3" x2="100.8" y2="1178.4" stroke="#f0f0f0" stroke-width="1"/><line x1="147.6" y1="1142.3" x2="147.6" y2="1178.4" stroke="#f0f0f0" stroke-width="1"/><line x1="194.4" y1="1142.3" x2="194.4" y2="1178.4" stroke="#f0f0f0" stroke-width="1"/><line x1="241.2" y1="1142.3" x2="241.2" y2="1178.4" stroke="#f0f0f0" stroke-width="1"/><line x1="288" y1="1142.3" x2="288" y2="1178.4" stroke="#f0f0f0" stroke-width="1"/><line x1="42.5" y1="1151.5" x2="299.6" y2="1151.5" stroke="#f0f0f0" stroke-width="1"/><line x1="42.5" y1="1168.3" x2="299.6" y2="1168.3" stroke="#f0f0f0" stroke-width="1"/>
<rect x="42.5" y="1142.3" width="257.1" height="36.1" fill="none" stroke="#999" stroke-width="1.25"/>
<text x="54" y="1155.2" font-size="8.5" text-anchor="middle" fill="#111" stroke="#111" stroke-width="0.15">25</text>
<text x="54" y="1172.1" font-size="8.5" text-anchor="middle" fill="#111" stroke="#111" stroke-width="0.15">17</text>
<text x="100.8" y="1155.2" font-size="8.5" text-anchor="middle" fill="#111" stroke="#111" stroke-width="0.15">17</text>
<text x="100.8" y="1172.1" font-size="8.5" text-anchor="middle" fill="#111" stroke="#111" stroke-width="0.15">16</text>
<text x="147.6" y="1155.2" font-size="8.5" text-anchor="middle" fill="#111" stroke="#111" stroke-width="0.15">2</text>
<text x="147.6" y="1172.1" font-size="8.5" text-anchor="middle" fill="#111" stroke="#111" stroke-width="0.15">13</text>
<text x="194.4" y="1155.2" font-size="8.5" text-anchor="middle" fill="#111" stroke="#111" stroke-width="0.15">0</text>
<text x="194.4" y="1172.1" font-size="8.5" text-anchor="middle" fill="#111" stroke="#111" stroke-width="0.15">4</text>
<text x="241.2" y="1155.2" font-size="8.5" text-anchor="middle" fill="#111" stroke="#111" stroke-width="0.15">0</text>
<text x="241.2" y="1172.1" font-size="8.5" text-anchor="middle" fill="#111" stroke="#111" stroke-width="0.15">2</text>
<text x="288" y="1155.2" font-size="8.5" text-anchor="middle" fill="#111" stroke="#111" stroke-width="0.15">0</text>
<text x="288" y="1172.1" font-size="8.5" text-anchor="middle" fill="#111" stroke="#111" stroke-width="0.15">1</text>
<text x="39.1" y="1153.3" font-size="6.15" text-anchor="end" fill="#EC6360">High</text>
<text x="39.1" y="1170" font-size="5.85" text-anchor="end" fill="#4ECBC2">Low</text>
<text x="384.2" y="906.2" font-size="19" text-anchor="start" fill="#000" stroke="#000" stroke-width="0.15" font-weight="bold">h</text>
<text x="554.45" y="905.2" font-size="8.85" text-anchor="middle" fill="#000" stroke="#000" stroke-width="0.15">Ex−val Cohort RFS</text>
<text x="516.5" y="922.6" font-size="7.0" text-anchor="start" fill="#000" stroke="#000" stroke-width="0.15">NTR</text>
<line x1="536.1" y1="920.3" x2="545.8" y2="920.3" stroke="#EC6360" stroke-width="1.6"/>
<line x1="540.95" y1="918" x2="540.95" y2="921.8" stroke="#EC6360" stroke-width="1"/>
<text x="550.6" y="922.6" font-size="5.8" text-anchor="start" fill="#1a1a1a" stroke="#1a1a1a" stroke-width="0.15">High</text>
<line x1="567.6" y1="920.3" x2="577.1" y2="920.3" stroke="#4ECBC2" stroke-width="1.6"/>
<line x1="572.35" y1="918" x2="572.35" y2="921.8" stroke="#4ECBC2" stroke-width="1"/>
<text x="581.9" y="922.6" font-size="5.8" text-anchor="start" fill="#1a1a1a" stroke="#1a1a1a" stroke-width="0.15">Low</text>
<line x1="460.8" y1="937.5" x2="460.8" y2="1104.7" stroke="#f4f4f4" stroke-width="0.9"/><line x1="507.6" y1="937.5" x2="507.6" y2="1104.7" stroke="#f4f4f4" stroke-width="0.9"/><line x1="554.4" y1="937.5" x2="554.4" y2="1104.7" stroke="#f4f4f4" stroke-width="0.9"/><line x1="601.2" y1="937.5" x2="601.2" y2="1104.7" stroke="#f4f4f4" stroke-width="0.9"/><line x1="648" y1="937.5" x2="648" y2="1104.7" stroke="#f4f4f4" stroke-width="0.9"/><line x1="426" y1="1078.38" x2="682.9" y2="1078.38" stroke="#f4f4f4" stroke-width="0.9"/><line x1="426" y1="1040.12" x2="682.9" y2="1040.12" stroke="#f4f4f4" stroke-width="0.9"/><line x1="426" y1="1001.88" x2="682.9" y2="1001.88" stroke="#f4f4f4" stroke-width="0.9"/><line x1="426" y1="963.62" x2="682.9" y2="963.62" stroke="#f4f4f4" stroke-width="0.9"/><line x1="437.4" y1="937.5" x2="437.4" y2="1104.7" stroke="#f0f0f0" stroke-width="1"/><line x1="484.2" y1="937.5" x2="484.2" y2="1104.7" stroke="#f0f0f0" stroke-width="1"/><line x1="531" y1="937.5" x2="531" y2="1104.7" stroke="#f0f0f0" stroke-width="1"/><line x1="577.8" y1="937.5" x2="577.8" y2="1104.7" stroke="#f0f0f0" stroke-width="1"/><line x1="624.6" y1="937.5" x2="624.6" y2="1104.7" stroke="#f0f0f0" stroke-width="1"/><line x1="671.4" y1="937.5" x2="671.4" y2="1104.7" stroke="#f0f0f0" stroke-width="1"/><line x1="426" y1="1097.5" x2="682.9" y2="1097.5" stroke="#f0f0f0" stroke-width="1"/><line x1="426" y1="1059.25" x2="682.9" y2="1059.25" stroke="#f0f0f0" stroke-width="1"/><line x1="426" y1="1021" x2="682.9" y2="1021" stroke="#f0f0f0" stroke-width="1"/><line x1="426" y1="982.75" x2="682.9" y2="982.75" stroke="#f0f0f0" stroke-width="1"/><line x1="426" y1="944.5" x2="682.9" y2="944.5" stroke="#f0f0f0" stroke-width="1"/>
<path d="M437.4,1020.75H531.2M470.5,1097.25V1020.75M531.2,1097.25V1020.75" fill="none" stroke="#3a3a3a" stroke-width="1.1" stroke-dasharray="3.25,2.45"/>
<path d="M437.4,944.25 444.2,944.25 444.2,950.6 451.2,950.6 451.2,983.6 456.3,983.6 456.3,1004.2 460.7,1004.2 460.7,1010.4 465.5,1010.4 465.5,1017.6 470.5,1017.6 470.5,1023.5 479.3,1023.5 479.3,1045.8 484.3,1045.8 484.3,1053 489.1,1053 489.1,1060.7 502.7,1060.7 502.7,1073.2 517.1,1073.2 517.1,1085.1 569.2,1085.1" fill="none" stroke="#EC6360" stroke-width="1.6" stroke-linejoin="miter"/>
<path d="M444.3,950.6h4.2M446.4,948.2v4.2M472.8,1023.5h4.2M474.9,1021.1v4.2M491.4,1060.7h4.2M493.5,1058.3v4.2M496.2,1060.7h4.2M498.3,1058.3v4.2M566.9,1085.1h4.2M569,1082.7v4.2" fill="none" stroke="#EC6360" stroke-width="0.95"/>
<path d="M437.4,944.25 446.4,944.25 446.4,953.4 484.3,953.4 484.3,963.3 493.5,963.3 493.5,972.5 502.9,972.5 502.9,993.5 512.3,993.5 512.3,1003.8 526.3,1003.8 526.3,1014.1 531.2,1014.1 531.2,1024.1 535.8,1024.1 535.8,1035.1 545.2,1035.1 545.2,1055.8 596.7,1055.8 596.7,1076.1 683,1076.1" fill="none" stroke="#4ECBC2" stroke-width="1.6" stroke-linejoin="miter"/>
<path d="M468.4,953.4h4.2M470.5,951v4.2M491.4,972.5h4.2M493.5,970.1v4.2M552.3,1055.8h4.2M554.4,1053.4v4.2M566.5,1055.8h4.2M568.6,1053.4v4.2" fill="none" stroke="#4ECBC2" stroke-width="0.95"/>
<rect x="426" y="937.5" width="256.9" height="167.2" fill="none" stroke="#999" stroke-width="1.25"/>
<line x1="423.8" y1="1097.5" x2="426" y2="1097.5" stroke="#333" stroke-width="0.9"/>
<text x="422.3" y="1099.7" font-size="6.1" text-anchor="end" fill="#4d4d4d" stroke="#4d4d4d" stroke-width="0.15">0.00</text>
<line x1="423.8" y1="1059.25" x2="426" y2="1059.25" stroke="#333" stroke-width="0.9"/>
<text x="422.3" y="1061.45" font-size="6.1" text-anchor="end" fill="#4d4d4d" stroke="#4d4d4d" stroke-width="0.15">0.25</text>
<line x1="423.8" y1="1021" x2="426" y2="1021" stroke="#333" stroke-width="0.9"/>
<text x="422.3" y="1023.2" font-size="6.1" text-anchor="end" fill="#4d4d4d" stroke="#4d4d4d" stroke-width="0.15">0.50</text>
<line x1="423.8" y1="982.75" x2="426" y2="982.75" stroke="#333" stroke-width="0.9"/>
<text x="422.3" y="984.95" font-size="6.1" text-anchor="end" fill="#4d4d4d" stroke="#4d4d4d" stroke-width="0.15">0.75</text>
<line x1="423.8" y1="944.5" x2="426" y2="944.5" stroke="#333" stroke-width="0.9"/>
<text x="422.3" y="946.7" font-size="6.1" text-anchor="end" fill="#4d4d4d" stroke="#4d4d4d" stroke-width="0.15">1.00</text>
<line x1="437.4" y1="1104.7" x2="437.4" y2="1106.9" stroke="#333" stroke-width="0.9"/>
<text x="437.4" y="1113.1" font-size="6.2" text-anchor="middle" fill="#4d4d4d" stroke="#4d4d4d" stroke-width="0.15">0</text>
<line x1="484.2" y1="1104.7" x2="484.2" y2="1106.9" stroke="#333" stroke-width="0.9"/>
<text x="484.2" y="1113.1" font-size="6.2" text-anchor="middle" fill="#4d4d4d" stroke="#4d4d4d" stroke-width="0.15">10</text>
<line x1="531" y1="1104.7" x2="531" y2="1106.9" stroke="#333" stroke-width="0.9"/>
<text x="531" y="1113.1" font-size="6.2" text-anchor="middle" fill="#4d4d4d" stroke="#4d4d4d" stroke-width="0.15">20</text>
<line x1="577.8" y1="1104.7" x2="577.8" y2="1106.9" stroke="#333" stroke-width="0.9"/>
<text x="577.8" y="1113.1" font-size="6.2" text-anchor="middle" fill="#4d4d4d" stroke="#4d4d4d" stroke-width="0.15">30</text>
<line x1="624.6" y1="1104.7" x2="624.6" y2="1106.9" stroke="#333" stroke-width="0.9"/>
<text x="624.6" y="1113.1" font-size="6.2" text-anchor="middle" fill="#4d4d4d" stroke="#4d4d4d" stroke-width="0.15">40</text>
<line x1="671.4" y1="1104.7" x2="671.4" y2="1106.9" stroke="#333" stroke-width="0.9"/>
<text x="671.4" y="1113.1" font-size="6.2" text-anchor="middle" fill="#4d4d4d" stroke="#4d4d4d" stroke-width="0.15">50</text>
<text x="554.45" y="1121.4" font-size="7.3" text-anchor="middle" fill="#000" stroke="#000" stroke-width="0.15">Time (Month)</text>
<text transform="translate(407.1,1021.1) rotate(-90)" font-size="7.3" text-anchor="middle" fill="#000">Survival probability</text>
<text x="442.7" y="1069.3" font-size="7.3" text-anchor="start" fill="#000" stroke="#000" stroke-width="0.04">p = 0.00072</text>
<text x="426.8" y="1136.5" font-size="8.6" text-anchor="start" fill="#000" stroke="#000" stroke-width="0.15">Number at risk</text>
<line x1="461.3" y1="1142.3" x2="461.3" y2="1178.4" stroke="#f4f4f4" stroke-width="0.9"/><line x1="508.1" y1="1142.3" x2="508.1" y2="1178.4" stroke="#f4f4f4" stroke-width="0.9"/><line x1="554.9" y1="1142.3" x2="554.9" y2="1178.4" stroke="#f4f4f4" stroke-width="0.9"/><line x1="601.7" y1="1142.3" x2="601.7" y2="1178.4" stroke="#f4f4f4" stroke-width="0.9"/><line x1="648.5" y1="1142.3" x2="648.5" y2="1178.4" stroke="#f4f4f4" stroke-width="0.9"/><line x1="437.9" y1="1142.3" x2="437.9" y2="1178.4" stroke="#f0f0f0" stroke-width="1"/><line x1="484.7" y1="1142.3" x2="484.7" y2="1178.4" stroke="#f0f0f0" stroke-width="1"/><line x1="531.5" y1="1142.3" x2="531.5" y2="1178.4" stroke="#f0f0f0" stroke-width="1"/><line x1="578.3" y1="1142.3" x2="578.3" y2="1178.4" stroke="#f0f0f0" stroke-width="1"/><line x1="625.1" y1="1142.3" x2="625.1" y2="1178.4" stroke="#f0f0f0" stroke-width="1"/><line x1="671.9" y1="1142.3" x2="671.9" y2="1178.4" stroke="#f0f0f0" stroke-width="1"/><line x1="426.2" y1="1151.5" x2="683.3" y2="1151.5" stroke="#f0f0f0" stroke-width="1"/><line x1="426.2" y1="1168.3" x2="683.3" y2="1168.3" stroke="#f0f0f0" stroke-width="1"/>
<rect x="426.2" y="1142.3" width="257.1" height="36.1" fill="none" stroke="#999" stroke-width="1.25"/>
<text x="437.9" y="1155.2" font-size="8.5" text-anchor="middle" fill="#111" stroke="#111" stroke-width="0.15">25</text>
<text x="437.9" y="1172.1" font-size="8.5" text-anchor="middle" fill="#111" stroke="#111" stroke-width="0.15">17</text>
<text x="484.7" y="1155.2" font-size="8.5" text-anchor="middle" fill="#111" stroke="#111" stroke-width="0.15">7</text>
<text x="484.7" y="1172.1" font-size="8.5" text-anchor="middle" fill="#111" stroke="#111" stroke-width="0.15">15</text>
<text x="531.5" y="1155.2" font-size="8.5" text-anchor="middle" fill="#111" stroke="#111" stroke-width="0.15">1</text>
<text x="531.5" y="1172.1" font-size="8.5" text-anchor="middle" fill="#111" stroke="#111" stroke-width="0.15">8</text>
<text x="578.3" y="1155.2" font-size="8.5" text-anchor="middle" fill="#111" stroke="#111" stroke-width="0.15">0</text>
<text x="578.3" y="1172.1" font-size="8.5" text-anchor="middle" fill="#111" stroke="#111" stroke-width="0.15">2</text>
<text x="625.1" y="1155.2" font-size="8.5" text-anchor="middle" fill="#111" stroke="#111" stroke-width="0.15">0</text>
<text x="625.1" y="1172.1" font-size="8.5" text-anchor="middle" fill="#111" stroke="#111" stroke-width="0.15">1</text>
<text x="671.9" y="1155.2" font-size="8.5" text-anchor="middle" fill="#111" stroke="#111" stroke-width="0.15">0</text>
<text x="671.9" y="1172.1" font-size="8.5" text-anchor="middle" fill="#111" stroke="#111" stroke-width="0.15">1</text>
<text x="422.8" y="1153.3" font-size="6.15" text-anchor="end" fill="#EC6360">High</text>
<text x="422.8" y="1170" font-size="5.85" text-anchor="end" fill="#4ECBC2">Low</text>
</svg></body></html>
